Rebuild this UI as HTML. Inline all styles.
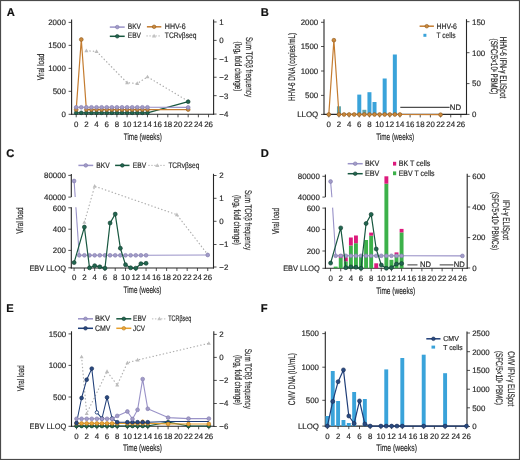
<!DOCTYPE html><html><head><meta charset="utf-8"><style>html,body{margin:0;padding:0;background:#fff;}body{width:520px;height:460px;overflow:hidden;}svg{display:block;-webkit-font-smoothing:antialiased;will-change:transform;filter:blur(0.3px);}text{text-rendering:geometricPrecision;}</style></head><body>
<svg width="520" height="460" viewBox="0 0 520 460" font-family='"Liberation Sans", sans-serif'>
<rect x="0" y="0" width="520" height="460" fill="#ffffff"/>
<text x="6.7" y="15.8" font-size="11.2" text-anchor="start" fill="#111" stroke="#111" stroke-width="0.18" font-weight="bold">A</text>
<line x1="71.6" y1="19.6" x2="71.6" y2="114.8" stroke="#262626" stroke-width="1.1" stroke-linecap="butt"/>
<line x1="68.6" y1="114.3" x2="71.6" y2="114.3" stroke="#262626" stroke-width="0.8" stroke-linecap="butt"/>
<text x="65.8" y="117.14" font-size="7.9" text-anchor="end" fill="#2a2a2a" stroke="#2a2a2a" stroke-width="0.18">0</text>
<line x1="68.6" y1="91.32" x2="71.6" y2="91.32" stroke="#262626" stroke-width="0.8" stroke-linecap="butt"/>
<text x="65.8" y="94.17" font-size="7.9" text-anchor="end" fill="#2a2a2a" stroke="#2a2a2a" stroke-width="0.18">500</text>
<line x1="68.6" y1="68.35" x2="71.6" y2="68.35" stroke="#262626" stroke-width="0.8" stroke-linecap="butt"/>
<text x="65.8" y="71.19" font-size="7.9" text-anchor="end" fill="#2a2a2a" stroke="#2a2a2a" stroke-width="0.18">1000</text>
<line x1="68.6" y1="45.37" x2="71.6" y2="45.37" stroke="#262626" stroke-width="0.8" stroke-linecap="butt"/>
<text x="65.8" y="48.22" font-size="7.9" text-anchor="end" fill="#2a2a2a" stroke="#2a2a2a" stroke-width="0.18">1500</text>
<line x1="68.6" y1="22.4" x2="71.6" y2="22.4" stroke="#262626" stroke-width="0.8" stroke-linecap="butt"/>
<text x="65.8" y="25.24" font-size="7.9" text-anchor="end" fill="#2a2a2a" stroke="#2a2a2a" stroke-width="0.18">2000</text>
<line x1="213.6" y1="19.6" x2="213.6" y2="114.8" stroke="#262626" stroke-width="1.1" stroke-linecap="butt"/>
<line x1="213.6" y1="21.98" x2="216.6" y2="21.98" stroke="#262626" stroke-width="0.8" stroke-linecap="butt"/>
<text x="219.3" y="24.82" font-size="7.9" text-anchor="start" fill="#2a2a2a" stroke="#2a2a2a" stroke-width="0.18">1</text>
<line x1="213.6" y1="40.4" x2="216.6" y2="40.4" stroke="#262626" stroke-width="0.8" stroke-linecap="butt"/>
<text x="219.3" y="43.24" font-size="7.9" text-anchor="start" fill="#2a2a2a" stroke="#2a2a2a" stroke-width="0.18">0</text>
<line x1="213.6" y1="58.82" x2="216.6" y2="58.82" stroke="#262626" stroke-width="0.8" stroke-linecap="butt"/>
<text x="219.3" y="61.66" font-size="7.9" text-anchor="start" fill="#2a2a2a" stroke="#2a2a2a" stroke-width="0.18">−1</text>
<line x1="213.6" y1="77.24" x2="216.6" y2="77.24" stroke="#262626" stroke-width="0.8" stroke-linecap="butt"/>
<text x="219.3" y="80.08" font-size="7.9" text-anchor="start" fill="#2a2a2a" stroke="#2a2a2a" stroke-width="0.18">−2</text>
<line x1="213.6" y1="95.66" x2="216.6" y2="95.66" stroke="#262626" stroke-width="0.8" stroke-linecap="butt"/>
<text x="219.3" y="98.5" font-size="7.9" text-anchor="start" fill="#2a2a2a" stroke="#2a2a2a" stroke-width="0.18">−3</text>
<line x1="213.6" y1="114.08" x2="216.6" y2="114.08" stroke="#262626" stroke-width="0.8" stroke-linecap="butt"/>
<text x="219.3" y="116.92" font-size="7.9" text-anchor="start" fill="#2a2a2a" stroke="#2a2a2a" stroke-width="0.18">−4</text>
<line x1="71.1" y1="114.3" x2="214.1" y2="114.3" stroke="#262626" stroke-width="1.1" stroke-linecap="butt"/>
<line x1="76.2" y1="114.3" x2="76.2" y2="117.3" stroke="#262626" stroke-width="0.8" stroke-linecap="butt"/>
<text x="76.2" y="127.34" font-size="7.9" text-anchor="middle" fill="#2a2a2a" stroke="#2a2a2a" stroke-width="0.18">0</text>
<line x1="86.38" y1="114.3" x2="86.38" y2="117.3" stroke="#262626" stroke-width="0.8" stroke-linecap="butt"/>
<text x="86.38" y="127.34" font-size="7.9" text-anchor="middle" fill="#2a2a2a" stroke="#2a2a2a" stroke-width="0.18">2</text>
<line x1="96.56" y1="114.3" x2="96.56" y2="117.3" stroke="#262626" stroke-width="0.8" stroke-linecap="butt"/>
<text x="96.56" y="127.34" font-size="7.9" text-anchor="middle" fill="#2a2a2a" stroke="#2a2a2a" stroke-width="0.18">4</text>
<line x1="106.74" y1="114.3" x2="106.74" y2="117.3" stroke="#262626" stroke-width="0.8" stroke-linecap="butt"/>
<text x="106.74" y="127.34" font-size="7.9" text-anchor="middle" fill="#2a2a2a" stroke="#2a2a2a" stroke-width="0.18">6</text>
<line x1="116.92" y1="114.3" x2="116.92" y2="117.3" stroke="#262626" stroke-width="0.8" stroke-linecap="butt"/>
<text x="116.92" y="127.34" font-size="7.9" text-anchor="middle" fill="#2a2a2a" stroke="#2a2a2a" stroke-width="0.18">8</text>
<line x1="127.1" y1="114.3" x2="127.1" y2="117.3" stroke="#262626" stroke-width="0.8" stroke-linecap="butt"/>
<text x="127.1" y="127.34" font-size="7.9" text-anchor="middle" fill="#2a2a2a" stroke="#2a2a2a" stroke-width="0.18">10</text>
<line x1="137.28" y1="114.3" x2="137.28" y2="117.3" stroke="#262626" stroke-width="0.8" stroke-linecap="butt"/>
<text x="137.28" y="127.34" font-size="7.9" text-anchor="middle" fill="#2a2a2a" stroke="#2a2a2a" stroke-width="0.18">12</text>
<line x1="147.46" y1="114.3" x2="147.46" y2="117.3" stroke="#262626" stroke-width="0.8" stroke-linecap="butt"/>
<text x="147.46" y="127.34" font-size="7.9" text-anchor="middle" fill="#2a2a2a" stroke="#2a2a2a" stroke-width="0.18">14</text>
<line x1="157.64" y1="114.3" x2="157.64" y2="117.3" stroke="#262626" stroke-width="0.8" stroke-linecap="butt"/>
<text x="157.64" y="127.34" font-size="7.9" text-anchor="middle" fill="#2a2a2a" stroke="#2a2a2a" stroke-width="0.18">16</text>
<line x1="167.82" y1="114.3" x2="167.82" y2="117.3" stroke="#262626" stroke-width="0.8" stroke-linecap="butt"/>
<text x="167.82" y="127.34" font-size="7.9" text-anchor="middle" fill="#2a2a2a" stroke="#2a2a2a" stroke-width="0.18">18</text>
<line x1="178" y1="114.3" x2="178" y2="117.3" stroke="#262626" stroke-width="0.8" stroke-linecap="butt"/>
<text x="178" y="127.34" font-size="7.9" text-anchor="middle" fill="#2a2a2a" stroke="#2a2a2a" stroke-width="0.18">20</text>
<line x1="188.18" y1="114.3" x2="188.18" y2="117.3" stroke="#262626" stroke-width="0.8" stroke-linecap="butt"/>
<text x="188.18" y="127.34" font-size="7.9" text-anchor="middle" fill="#2a2a2a" stroke="#2a2a2a" stroke-width="0.18">22</text>
<line x1="198.36" y1="114.3" x2="198.36" y2="117.3" stroke="#262626" stroke-width="0.8" stroke-linecap="butt"/>
<text x="198.36" y="127.34" font-size="7.9" text-anchor="middle" fill="#2a2a2a" stroke="#2a2a2a" stroke-width="0.18">24</text>
<line x1="208.54" y1="114.3" x2="208.54" y2="117.3" stroke="#262626" stroke-width="0.8" stroke-linecap="butt"/>
<text x="208.54" y="127.34" font-size="7.9" text-anchor="middle" fill="#2a2a2a" stroke="#2a2a2a" stroke-width="0.18">26</text>
<text x="142.8" y="139.76" font-size="9.6" text-anchor="middle" fill="#2a2a2a" stroke="#2a2a2a" stroke-width="0.18" textLength="38" lengthAdjust="spacingAndGlyphs">Time (weeks)</text>
<text x="0" y="0" font-size="9.6" text-anchor="middle" fill="#2a2a2a" stroke="#2a2a2a" stroke-width="0.18" textLength="26.6" lengthAdjust="spacingAndGlyphs" transform="translate(40.6 67) rotate(-90) translate(0 3.36)">Viral load</text>
<text x="0" y="0" font-size="9.6" text-anchor="middle" fill="#2a2a2a" stroke="#2a2a2a" stroke-width="0.18" textLength="60" lengthAdjust="spacingAndGlyphs" transform="translate(248.9 67) rotate(90) translate(0 3.36)">Sum TCRβ frequency</text>
<text x="0" y="0" font-size="9.6" text-anchor="middle" fill="#2a2a2a" stroke="#2a2a2a" stroke-width="0.18" textLength="50" lengthAdjust="spacingAndGlyphs" transform="translate(238.5 66.5) rotate(90) translate(0 3.36)">(log<tspan font-size="4.8" dy="1.5">2</tspan><tspan dy="-1.5"> fold change)</tspan></text>
<line x1="109.8" y1="27.1" x2="124.7" y2="27.1" stroke="#9a93c8" stroke-width="1.5" stroke-linecap="butt"/>
<circle cx="117.25" cy="27.1" r="1.8" fill="#a29cc8" stroke="#7f78ab" stroke-width="0.6"/>
<text x="127.8" y="28.8" font-size="8" text-anchor="start" fill="#2a2a2a" stroke="#2a2a2a" stroke-width="0.18" textLength="13.2" lengthAdjust="spacingAndGlyphs">BKV</text>
<line x1="146.9" y1="26.8" x2="161.3" y2="26.8" stroke="#c47c30" stroke-width="1.5" stroke-linecap="butt"/>
<circle cx="154.1" cy="26.8" r="1.8" fill="#c98a3e" stroke="#915719" stroke-width="0.6"/>
<text x="164.8" y="29.2" font-size="8" text-anchor="start" fill="#2a2a2a" stroke="#2a2a2a" stroke-width="0.18" textLength="20.8" lengthAdjust="spacingAndGlyphs">HHV-6</text>
<line x1="109.8" y1="36.3" x2="124.7" y2="36.3" stroke="#17573f" stroke-width="1.5" stroke-linecap="butt"/>
<circle cx="117.25" cy="36.3" r="1.8" fill="#226650" stroke="#0f3b2c" stroke-width="0.6"/>
<text x="127.8" y="38.2" font-size="8" text-anchor="start" fill="#2a2a2a" stroke="#2a2a2a" stroke-width="0.18" textLength="13.2" lengthAdjust="spacingAndGlyphs">EBV</text>
<line x1="146.9" y1="35.9" x2="161.3" y2="35.9" stroke="#c4c4c4" stroke-width="1.3" stroke-linecap="round" stroke-dasharray="0.4,2.6"/>
<polygon points="154.1,33.63 152,37.41 156.2,37.41" fill="#c2c2c2"/>
<text x="164.8" y="38.3" font-size="8" text-anchor="start" fill="#2a2a2a" stroke="#2a2a2a" stroke-width="0.18" textLength="31.7" lengthAdjust="spacingAndGlyphs">TCRvβseq</text>
<polyline points="86.38,50.72 96.56,51.45 127.1,82.77 137.28,83.5 147.46,76.87 188.18,101.19" fill="none" stroke="#b0b0b0" stroke-width="1.25" stroke-linejoin="round" stroke-dasharray="0.4,3.1" stroke-linecap="round"/>
<polygon points="86.38,48.56 84.38,52.16 88.38,52.16" fill="#bcbcbc"/>
<polygon points="96.56,49.29 94.56,52.89 98.56,52.89" fill="#bcbcbc"/>
<polygon points="127.1,80.61 125.1,84.21 129.1,84.21" fill="#bcbcbc"/>
<polygon points="137.28,81.34 135.28,84.94 139.28,84.94" fill="#bcbcbc"/>
<polygon points="147.46,74.71 145.46,78.31 149.46,78.31" fill="#bcbcbc"/>
<polygon points="188.18,99.03 186.18,102.63 190.18,102.63" fill="#bcbcbc"/>
<polyline points="76.2,112.8 81.29,112.8 86.38,112.8 91.47,112.8 96.56,112.8 101.65,112.8 106.74,112.8 111.83,112.8 116.92,112.8 122.01,112.8 127.1,112.8 132.19,112.8 137.28,112.8 142.37,112.8 147.46,112.8 188.18,101.7" fill="none" stroke="#17573f" stroke-width="1.2" stroke-linejoin="round"/>
<circle cx="76.2" cy="112.8" r="1.9" fill="#226650" stroke="#0f3b2c" stroke-width="0.6"/>
<circle cx="81.29" cy="112.8" r="1.9" fill="#226650" stroke="#0f3b2c" stroke-width="0.6"/>
<circle cx="86.38" cy="112.8" r="1.9" fill="#226650" stroke="#0f3b2c" stroke-width="0.6"/>
<circle cx="91.47" cy="112.8" r="1.9" fill="#226650" stroke="#0f3b2c" stroke-width="0.6"/>
<circle cx="96.56" cy="112.8" r="1.9" fill="#226650" stroke="#0f3b2c" stroke-width="0.6"/>
<circle cx="101.65" cy="112.8" r="1.9" fill="#226650" stroke="#0f3b2c" stroke-width="0.6"/>
<circle cx="106.74" cy="112.8" r="1.9" fill="#226650" stroke="#0f3b2c" stroke-width="0.6"/>
<circle cx="111.83" cy="112.8" r="1.9" fill="#226650" stroke="#0f3b2c" stroke-width="0.6"/>
<circle cx="116.92" cy="112.8" r="1.9" fill="#226650" stroke="#0f3b2c" stroke-width="0.6"/>
<circle cx="122.01" cy="112.8" r="1.9" fill="#226650" stroke="#0f3b2c" stroke-width="0.6"/>
<circle cx="127.1" cy="112.8" r="1.9" fill="#226650" stroke="#0f3b2c" stroke-width="0.6"/>
<circle cx="132.19" cy="112.8" r="1.9" fill="#226650" stroke="#0f3b2c" stroke-width="0.6"/>
<circle cx="137.28" cy="112.8" r="1.9" fill="#226650" stroke="#0f3b2c" stroke-width="0.6"/>
<circle cx="142.37" cy="112.8" r="1.9" fill="#226650" stroke="#0f3b2c" stroke-width="0.6"/>
<circle cx="147.46" cy="112.8" r="1.9" fill="#226650" stroke="#0f3b2c" stroke-width="0.6"/>
<circle cx="188.18" cy="101.7" r="1.9" fill="#226650" stroke="#0f3b2c" stroke-width="0.6"/>
<polyline points="76.2,109.6 81.29,39.5 86.38,109.6 91.47,109.6 96.56,109.6 101.65,109.6 106.74,109.6 111.83,109.6 116.92,109.6 122.01,109.6 127.1,109.6 132.19,109.6 137.28,109.6 142.37,109.6 147.46,109.6 188.18,109.6" fill="none" stroke="#c47c30" stroke-width="1.2" stroke-linejoin="round"/>
<circle cx="76.2" cy="109.6" r="1.9" fill="#c98a3e" stroke="#915719" stroke-width="0.6"/>
<circle cx="81.29" cy="39.5" r="1.9" fill="#c98a3e" stroke="#915719" stroke-width="0.6"/>
<circle cx="86.38" cy="109.6" r="1.9" fill="#c98a3e" stroke="#915719" stroke-width="0.6"/>
<circle cx="91.47" cy="109.6" r="1.9" fill="#c98a3e" stroke="#915719" stroke-width="0.6"/>
<circle cx="96.56" cy="109.6" r="1.9" fill="#c98a3e" stroke="#915719" stroke-width="0.6"/>
<circle cx="101.65" cy="109.6" r="1.9" fill="#c98a3e" stroke="#915719" stroke-width="0.6"/>
<circle cx="106.74" cy="109.6" r="1.9" fill="#c98a3e" stroke="#915719" stroke-width="0.6"/>
<circle cx="111.83" cy="109.6" r="1.9" fill="#c98a3e" stroke="#915719" stroke-width="0.6"/>
<circle cx="116.92" cy="109.6" r="1.9" fill="#c98a3e" stroke="#915719" stroke-width="0.6"/>
<circle cx="122.01" cy="109.6" r="1.9" fill="#c98a3e" stroke="#915719" stroke-width="0.6"/>
<circle cx="127.1" cy="109.6" r="1.9" fill="#c98a3e" stroke="#915719" stroke-width="0.6"/>
<circle cx="132.19" cy="109.6" r="1.9" fill="#c98a3e" stroke="#915719" stroke-width="0.6"/>
<circle cx="137.28" cy="109.6" r="1.9" fill="#c98a3e" stroke="#915719" stroke-width="0.6"/>
<circle cx="142.37" cy="109.6" r="1.9" fill="#c98a3e" stroke="#915719" stroke-width="0.6"/>
<circle cx="147.46" cy="109.6" r="1.9" fill="#c98a3e" stroke="#915719" stroke-width="0.6"/>
<circle cx="188.18" cy="109.6" r="1.9" fill="#c98a3e" stroke="#915719" stroke-width="0.6"/>
<polyline points="76.2,107.3 81.29,107.3 86.38,107.3 91.47,107.3 96.56,107.3 101.65,107.3 106.74,107.3 111.83,107.3 116.92,107.3 122.01,107.3 127.1,107.3 132.19,107.3 137.28,107.3 142.37,107.3 147.46,107.3 188.18,107.4" fill="none" stroke="#9a93c8" stroke-width="1.1" stroke-linejoin="round"/>
<circle cx="76.2" cy="107.3" r="1.9" fill="#a29cc8" stroke="#7f78ab" stroke-width="0.6"/>
<circle cx="81.29" cy="107.3" r="1.9" fill="#a29cc8" stroke="#7f78ab" stroke-width="0.6"/>
<circle cx="86.38" cy="107.3" r="1.9" fill="#a29cc8" stroke="#7f78ab" stroke-width="0.6"/>
<circle cx="91.47" cy="107.3" r="1.9" fill="#a29cc8" stroke="#7f78ab" stroke-width="0.6"/>
<circle cx="96.56" cy="107.3" r="1.9" fill="#a29cc8" stroke="#7f78ab" stroke-width="0.6"/>
<circle cx="101.65" cy="107.3" r="1.9" fill="#a29cc8" stroke="#7f78ab" stroke-width="0.6"/>
<circle cx="106.74" cy="107.3" r="1.9" fill="#a29cc8" stroke="#7f78ab" stroke-width="0.6"/>
<circle cx="111.83" cy="107.3" r="1.9" fill="#a29cc8" stroke="#7f78ab" stroke-width="0.6"/>
<circle cx="116.92" cy="107.3" r="1.9" fill="#a29cc8" stroke="#7f78ab" stroke-width="0.6"/>
<circle cx="122.01" cy="107.3" r="1.9" fill="#a29cc8" stroke="#7f78ab" stroke-width="0.6"/>
<circle cx="127.1" cy="107.3" r="1.9" fill="#a29cc8" stroke="#7f78ab" stroke-width="0.6"/>
<circle cx="132.19" cy="107.3" r="1.9" fill="#a29cc8" stroke="#7f78ab" stroke-width="0.6"/>
<circle cx="137.28" cy="107.3" r="1.9" fill="#a29cc8" stroke="#7f78ab" stroke-width="0.6"/>
<circle cx="142.37" cy="107.3" r="1.9" fill="#a29cc8" stroke="#7f78ab" stroke-width="0.6"/>
<circle cx="147.46" cy="107.3" r="1.9" fill="#a29cc8" stroke="#7f78ab" stroke-width="0.6"/>
<circle cx="188.18" cy="107.4" r="1.9" fill="#a29cc8" stroke="#7f78ab" stroke-width="0.6"/>
<text x="260.7" y="15.6" font-size="11.2" text-anchor="start" fill="#111" stroke="#111" stroke-width="0.18" font-weight="bold">B</text>
<line x1="324" y1="19.2" x2="324" y2="114.9" stroke="#262626" stroke-width="1.1" stroke-linecap="butt"/>
<line x1="321" y1="22.3" x2="324" y2="22.3" stroke="#262626" stroke-width="0.8" stroke-linecap="butt"/>
<text x="318.2" y="25.14" font-size="7.9" text-anchor="end" fill="#2a2a2a" stroke="#2a2a2a" stroke-width="0.18">2000</text>
<line x1="321" y1="46.5" x2="324" y2="46.5" stroke="#262626" stroke-width="0.8" stroke-linecap="butt"/>
<text x="318.2" y="49.34" font-size="7.9" text-anchor="end" fill="#2a2a2a" stroke="#2a2a2a" stroke-width="0.18">1500</text>
<line x1="321" y1="71" x2="324" y2="71" stroke="#262626" stroke-width="0.8" stroke-linecap="butt"/>
<text x="318.2" y="73.84" font-size="7.9" text-anchor="end" fill="#2a2a2a" stroke="#2a2a2a" stroke-width="0.18">1000</text>
<line x1="321" y1="95.4" x2="324" y2="95.4" stroke="#262626" stroke-width="0.8" stroke-linecap="butt"/>
<text x="318.2" y="98.24" font-size="7.9" text-anchor="end" fill="#2a2a2a" stroke="#2a2a2a" stroke-width="0.18">500</text>
<line x1="321" y1="114.4" x2="324" y2="114.4" stroke="#262626" stroke-width="0.8" stroke-linecap="butt"/>
<text x="318.2" y="117.24" font-size="7.9" text-anchor="end" fill="#2a2a2a" stroke="#2a2a2a" stroke-width="0.18">LLOQ</text>
<line x1="466.5" y1="19.2" x2="466.5" y2="114.9" stroke="#262626" stroke-width="1.1" stroke-linecap="butt"/>
<line x1="466.5" y1="21.7" x2="469.5" y2="21.7" stroke="#262626" stroke-width="0.8" stroke-linecap="butt"/>
<text x="472" y="24.54" font-size="7.9" text-anchor="start" fill="#2a2a2a" stroke="#2a2a2a" stroke-width="0.18">150</text>
<line x1="466.5" y1="52.7" x2="469.5" y2="52.7" stroke="#262626" stroke-width="0.8" stroke-linecap="butt"/>
<text x="472" y="55.54" font-size="7.9" text-anchor="start" fill="#2a2a2a" stroke="#2a2a2a" stroke-width="0.18">100</text>
<line x1="466.5" y1="83.6" x2="469.5" y2="83.6" stroke="#262626" stroke-width="0.8" stroke-linecap="butt"/>
<text x="472" y="86.44" font-size="7.9" text-anchor="start" fill="#2a2a2a" stroke="#2a2a2a" stroke-width="0.18">50</text>
<line x1="466.5" y1="114.4" x2="469.5" y2="114.4" stroke="#262626" stroke-width="0.8" stroke-linecap="butt"/>
<text x="472" y="117.24" font-size="7.9" text-anchor="start" fill="#2a2a2a" stroke="#2a2a2a" stroke-width="0.18">0</text>
<line x1="323.5" y1="114.4" x2="467" y2="114.4" stroke="#262626" stroke-width="1.1" stroke-linecap="butt"/>
<line x1="328.8" y1="114.4" x2="328.8" y2="117.4" stroke="#262626" stroke-width="0.8" stroke-linecap="butt"/>
<text x="328.8" y="127.24" font-size="7.9" text-anchor="middle" fill="#2a2a2a" stroke="#2a2a2a" stroke-width="0.18">0</text>
<line x1="338.96" y1="114.4" x2="338.96" y2="117.4" stroke="#262626" stroke-width="0.8" stroke-linecap="butt"/>
<text x="338.96" y="127.24" font-size="7.9" text-anchor="middle" fill="#2a2a2a" stroke="#2a2a2a" stroke-width="0.18">2</text>
<line x1="349.12" y1="114.4" x2="349.12" y2="117.4" stroke="#262626" stroke-width="0.8" stroke-linecap="butt"/>
<text x="349.12" y="127.24" font-size="7.9" text-anchor="middle" fill="#2a2a2a" stroke="#2a2a2a" stroke-width="0.18">4</text>
<line x1="359.28" y1="114.4" x2="359.28" y2="117.4" stroke="#262626" stroke-width="0.8" stroke-linecap="butt"/>
<text x="359.28" y="127.24" font-size="7.9" text-anchor="middle" fill="#2a2a2a" stroke="#2a2a2a" stroke-width="0.18">6</text>
<line x1="369.44" y1="114.4" x2="369.44" y2="117.4" stroke="#262626" stroke-width="0.8" stroke-linecap="butt"/>
<text x="369.44" y="127.24" font-size="7.9" text-anchor="middle" fill="#2a2a2a" stroke="#2a2a2a" stroke-width="0.18">8</text>
<line x1="379.6" y1="114.4" x2="379.6" y2="117.4" stroke="#262626" stroke-width="0.8" stroke-linecap="butt"/>
<text x="379.6" y="127.24" font-size="7.9" text-anchor="middle" fill="#2a2a2a" stroke="#2a2a2a" stroke-width="0.18">10</text>
<line x1="389.76" y1="114.4" x2="389.76" y2="117.4" stroke="#262626" stroke-width="0.8" stroke-linecap="butt"/>
<text x="389.76" y="127.24" font-size="7.9" text-anchor="middle" fill="#2a2a2a" stroke="#2a2a2a" stroke-width="0.18">12</text>
<line x1="399.92" y1="114.4" x2="399.92" y2="117.4" stroke="#262626" stroke-width="0.8" stroke-linecap="butt"/>
<text x="399.92" y="127.24" font-size="7.9" text-anchor="middle" fill="#2a2a2a" stroke="#2a2a2a" stroke-width="0.18">14</text>
<line x1="410.08" y1="114.4" x2="410.08" y2="117.4" stroke="#262626" stroke-width="0.8" stroke-linecap="butt"/>
<text x="410.08" y="127.24" font-size="7.9" text-anchor="middle" fill="#2a2a2a" stroke="#2a2a2a" stroke-width="0.18">16</text>
<line x1="420.24" y1="114.4" x2="420.24" y2="117.4" stroke="#262626" stroke-width="0.8" stroke-linecap="butt"/>
<text x="420.24" y="127.24" font-size="7.9" text-anchor="middle" fill="#2a2a2a" stroke="#2a2a2a" stroke-width="0.18">18</text>
<line x1="430.4" y1="114.4" x2="430.4" y2="117.4" stroke="#262626" stroke-width="0.8" stroke-linecap="butt"/>
<text x="430.4" y="127.24" font-size="7.9" text-anchor="middle" fill="#2a2a2a" stroke="#2a2a2a" stroke-width="0.18">20</text>
<line x1="440.56" y1="114.4" x2="440.56" y2="117.4" stroke="#262626" stroke-width="0.8" stroke-linecap="butt"/>
<text x="440.56" y="127.24" font-size="7.9" text-anchor="middle" fill="#2a2a2a" stroke="#2a2a2a" stroke-width="0.18">22</text>
<line x1="450.72" y1="114.4" x2="450.72" y2="117.4" stroke="#262626" stroke-width="0.8" stroke-linecap="butt"/>
<text x="450.72" y="127.24" font-size="7.9" text-anchor="middle" fill="#2a2a2a" stroke="#2a2a2a" stroke-width="0.18">24</text>
<line x1="460.88" y1="114.4" x2="460.88" y2="117.4" stroke="#262626" stroke-width="0.8" stroke-linecap="butt"/>
<text x="460.88" y="127.24" font-size="7.9" text-anchor="middle" fill="#2a2a2a" stroke="#2a2a2a" stroke-width="0.18">26</text>
<text x="395.2" y="139.86" font-size="9.6" text-anchor="middle" fill="#2a2a2a" stroke="#2a2a2a" stroke-width="0.18" textLength="38" lengthAdjust="spacingAndGlyphs">Time (weeks)</text>
<text x="0" y="0" font-size="9.6" text-anchor="middle" fill="#2a2a2a" stroke="#2a2a2a" stroke-width="0.18" textLength="68" lengthAdjust="spacingAndGlyphs" transform="translate(291.4 67) rotate(-90) translate(0 3.36)">HHV-6 DNA (copies/mL)</text>
<text x="0" y="0" font-size="9.6" text-anchor="middle" fill="#2a2a2a" stroke="#2a2a2a" stroke-width="0.18" textLength="61.7" lengthAdjust="spacingAndGlyphs" transform="translate(503.6 67.5) rotate(90) translate(0 3.36)">HHV-6 IFN-γ ELISpot</text>
<text x="0" y="0" font-size="9.6" text-anchor="middle" fill="#2a2a2a" stroke="#2a2a2a" stroke-width="0.18" textLength="56" lengthAdjust="spacingAndGlyphs" transform="translate(494.4 66.5) rotate(90) translate(0 3.36)">(SFC/5×10<tspan font-size="4.5" dy="-2">5</tspan><tspan dy="2"> PBMC)</tspan></text>
<line x1="419.6" y1="26.2" x2="433.9" y2="26.2" stroke="#c47c30" stroke-width="1.5" stroke-linecap="butt"/>
<circle cx="426.75" cy="26.2" r="1.8" fill="#c98a3e" stroke="#915719" stroke-width="0.6"/>
<text x="436.5" y="28.6" font-size="8" text-anchor="start" fill="#2a2a2a" stroke="#2a2a2a" stroke-width="0.18" textLength="20.4" lengthAdjust="spacingAndGlyphs">HHV-6</text>
<rect x="423.4" y="33.8" width="3" height="3" fill="#3aa3da"/>
<text x="436.5" y="37.7" font-size="8" text-anchor="start" fill="#2a2a2a" stroke="#2a2a2a" stroke-width="0.18" textLength="19.1" lengthAdjust="spacingAndGlyphs">T cells</text>
<rect x="336.96" y="106.3" width="4" height="8.1" fill="#62a4a8"/>
<rect x="357.28" y="94.6" width="4" height="19.8" fill="#3aa3da"/>
<rect x="362.36" y="109.8" width="4" height="4.6" fill="#62a4a8"/>
<rect x="367.44" y="92.2" width="4" height="22.2" fill="#3aa3da"/>
<rect x="372.52" y="102" width="4" height="12.4" fill="#3aa3da"/>
<rect x="382.68" y="78.5" width="4" height="35.9" fill="#3aa3da"/>
<rect x="392.84" y="54.5" width="4" height="59.9" fill="#3aa3da"/>
<line x1="400.3" y1="107.3" x2="449.6" y2="107.3" stroke="#222" stroke-width="1" stroke-linecap="butt"/>
<text x="449.8" y="109.5" font-size="7.9" text-anchor="start" fill="#2a2a2a" stroke="#2a2a2a" stroke-width="0.18" textLength="11.3" lengthAdjust="spacingAndGlyphs">ND</text>
<polyline points="328.8,114.5 333.88,40.2 338.96,114.5 344.04,114.5 349.12,114.5 354.2,114.5 359.28,114.5 364.36,114.5 369.44,114.5 374.52,114.5 379.6,114.5 384.68,114.5 389.76,114.5 394.84,114.5 399.92,114.5 440.56,114.7" fill="none" stroke="#c47c30" stroke-width="1.2" stroke-linejoin="round"/>
<circle cx="328.8" cy="114.5" r="1.9" fill="#c98a3e" stroke="#915719" stroke-width="0.6"/>
<circle cx="333.88" cy="40.2" r="1.9" fill="#c98a3e" stroke="#915719" stroke-width="0.6"/>
<circle cx="338.96" cy="114.5" r="1.9" fill="#c98a3e" stroke="#915719" stroke-width="0.6"/>
<circle cx="344.04" cy="114.5" r="1.9" fill="#c98a3e" stroke="#915719" stroke-width="0.6"/>
<circle cx="349.12" cy="114.5" r="1.9" fill="#c98a3e" stroke="#915719" stroke-width="0.6"/>
<circle cx="354.2" cy="114.5" r="1.9" fill="#c98a3e" stroke="#915719" stroke-width="0.6"/>
<circle cx="359.28" cy="114.5" r="1.9" fill="#c98a3e" stroke="#915719" stroke-width="0.6"/>
<circle cx="364.36" cy="114.5" r="1.9" fill="#c98a3e" stroke="#915719" stroke-width="0.6"/>
<circle cx="369.44" cy="114.5" r="1.9" fill="#c98a3e" stroke="#915719" stroke-width="0.6"/>
<circle cx="374.52" cy="114.5" r="1.9" fill="#c98a3e" stroke="#915719" stroke-width="0.6"/>
<circle cx="379.6" cy="114.5" r="1.9" fill="#c98a3e" stroke="#915719" stroke-width="0.6"/>
<circle cx="384.68" cy="114.5" r="1.9" fill="#c98a3e" stroke="#915719" stroke-width="0.6"/>
<circle cx="389.76" cy="114.5" r="1.9" fill="#c98a3e" stroke="#915719" stroke-width="0.6"/>
<circle cx="394.84" cy="114.5" r="1.9" fill="#c98a3e" stroke="#915719" stroke-width="0.6"/>
<circle cx="399.92" cy="114.5" r="1.9" fill="#c98a3e" stroke="#915719" stroke-width="0.6"/>
<circle cx="440.56" cy="114.7" r="1.9" fill="#c98a3e" stroke="#915719" stroke-width="0.6"/>
<text x="6.2" y="157.3" font-size="11.2" text-anchor="start" fill="#111" stroke="#111" stroke-width="0.18" font-weight="bold">C</text>
<line x1="71.3" y1="174" x2="71.3" y2="197.1" stroke="#262626" stroke-width="1.1" stroke-linecap="butt"/>
<line x1="71.3" y1="207.2" x2="71.3" y2="268.5" stroke="#262626" stroke-width="1.1" stroke-linecap="butt"/>
<line x1="68.3" y1="175.4" x2="71.3" y2="175.4" stroke="#262626" stroke-width="0.8" stroke-linecap="butt"/>
<text x="66" y="178.24" font-size="7.9" text-anchor="end" fill="#2a2a2a" stroke="#2a2a2a" stroke-width="0.18">80000</text>
<line x1="68.3" y1="197.1" x2="71.3" y2="197.1" stroke="#262626" stroke-width="0.8" stroke-linecap="butt"/>
<text x="66" y="199.94" font-size="7.9" text-anchor="end" fill="#2a2a2a" stroke="#2a2a2a" stroke-width="0.18">40000</text>
<line x1="68.3" y1="207.8" x2="71.3" y2="207.8" stroke="#262626" stroke-width="0.8" stroke-linecap="butt"/>
<text x="66" y="210.64" font-size="7.9" text-anchor="end" fill="#2a2a2a" stroke="#2a2a2a" stroke-width="0.18">600</text>
<line x1="68.3" y1="229.2" x2="71.3" y2="229.2" stroke="#262626" stroke-width="0.8" stroke-linecap="butt"/>
<text x="66" y="232.04" font-size="7.9" text-anchor="end" fill="#2a2a2a" stroke="#2a2a2a" stroke-width="0.18">400</text>
<line x1="68.3" y1="250.4" x2="71.3" y2="250.4" stroke="#262626" stroke-width="0.8" stroke-linecap="butt"/>
<text x="66" y="253.24" font-size="7.9" text-anchor="end" fill="#2a2a2a" stroke="#2a2a2a" stroke-width="0.18">200</text>
<line x1="68.3" y1="267.8" x2="71.3" y2="267.8" stroke="#262626" stroke-width="0.8" stroke-linecap="butt"/>
<text x="66" y="270.64" font-size="7.9" text-anchor="end" fill="#2a2a2a" stroke="#2a2a2a" stroke-width="0.18" textLength="36.6" lengthAdjust="spacingAndGlyphs">EBV LLOQ</text>
<line x1="213.5" y1="173.8" x2="213.5" y2="268.5" stroke="#262626" stroke-width="1.1" stroke-linecap="butt"/>
<line x1="213.5" y1="175.5" x2="216.5" y2="175.5" stroke="#262626" stroke-width="0.8" stroke-linecap="butt"/>
<text x="219.3" y="178.34" font-size="7.9" text-anchor="start" fill="#2a2a2a" stroke="#2a2a2a" stroke-width="0.18">2</text>
<line x1="213.5" y1="198.3" x2="216.5" y2="198.3" stroke="#262626" stroke-width="0.8" stroke-linecap="butt"/>
<text x="219.3" y="201.14" font-size="7.9" text-anchor="start" fill="#2a2a2a" stroke="#2a2a2a" stroke-width="0.18">1</text>
<line x1="213.5" y1="221.3" x2="216.5" y2="221.3" stroke="#262626" stroke-width="0.8" stroke-linecap="butt"/>
<text x="219.3" y="224.14" font-size="7.9" text-anchor="start" fill="#2a2a2a" stroke="#2a2a2a" stroke-width="0.18">0</text>
<line x1="213.5" y1="244.5" x2="216.5" y2="244.5" stroke="#262626" stroke-width="0.8" stroke-linecap="butt"/>
<text x="219.3" y="247.34" font-size="7.9" text-anchor="start" fill="#2a2a2a" stroke="#2a2a2a" stroke-width="0.18">−1</text>
<line x1="213.5" y1="267" x2="216.5" y2="267" stroke="#262626" stroke-width="0.8" stroke-linecap="butt"/>
<text x="219.3" y="269.84" font-size="7.9" text-anchor="start" fill="#2a2a2a" stroke="#2a2a2a" stroke-width="0.18">−2</text>
<line x1="70.8" y1="268" x2="214" y2="268" stroke="#262626" stroke-width="1.1" stroke-linecap="butt"/>
<line x1="74.1" y1="268" x2="74.1" y2="271" stroke="#262626" stroke-width="0.8" stroke-linecap="butt"/>
<text x="74.1" y="280.34" font-size="7.9" text-anchor="middle" fill="#2a2a2a" stroke="#2a2a2a" stroke-width="0.18">0</text>
<line x1="84.38" y1="268" x2="84.38" y2="271" stroke="#262626" stroke-width="0.8" stroke-linecap="butt"/>
<text x="84.38" y="280.34" font-size="7.9" text-anchor="middle" fill="#2a2a2a" stroke="#2a2a2a" stroke-width="0.18">2</text>
<line x1="94.66" y1="268" x2="94.66" y2="271" stroke="#262626" stroke-width="0.8" stroke-linecap="butt"/>
<text x="94.66" y="280.34" font-size="7.9" text-anchor="middle" fill="#2a2a2a" stroke="#2a2a2a" stroke-width="0.18">4</text>
<line x1="104.94" y1="268" x2="104.94" y2="271" stroke="#262626" stroke-width="0.8" stroke-linecap="butt"/>
<text x="104.94" y="280.34" font-size="7.9" text-anchor="middle" fill="#2a2a2a" stroke="#2a2a2a" stroke-width="0.18">6</text>
<line x1="115.22" y1="268" x2="115.22" y2="271" stroke="#262626" stroke-width="0.8" stroke-linecap="butt"/>
<text x="115.22" y="280.34" font-size="7.9" text-anchor="middle" fill="#2a2a2a" stroke="#2a2a2a" stroke-width="0.18">8</text>
<line x1="125.5" y1="268" x2="125.5" y2="271" stroke="#262626" stroke-width="0.8" stroke-linecap="butt"/>
<text x="125.5" y="280.34" font-size="7.9" text-anchor="middle" fill="#2a2a2a" stroke="#2a2a2a" stroke-width="0.18">10</text>
<line x1="135.78" y1="268" x2="135.78" y2="271" stroke="#262626" stroke-width="0.8" stroke-linecap="butt"/>
<text x="135.78" y="280.34" font-size="7.9" text-anchor="middle" fill="#2a2a2a" stroke="#2a2a2a" stroke-width="0.18">12</text>
<line x1="146.06" y1="268" x2="146.06" y2="271" stroke="#262626" stroke-width="0.8" stroke-linecap="butt"/>
<text x="146.06" y="280.34" font-size="7.9" text-anchor="middle" fill="#2a2a2a" stroke="#2a2a2a" stroke-width="0.18">14</text>
<line x1="156.34" y1="268" x2="156.34" y2="271" stroke="#262626" stroke-width="0.8" stroke-linecap="butt"/>
<text x="156.34" y="280.34" font-size="7.9" text-anchor="middle" fill="#2a2a2a" stroke="#2a2a2a" stroke-width="0.18">16</text>
<line x1="166.62" y1="268" x2="166.62" y2="271" stroke="#262626" stroke-width="0.8" stroke-linecap="butt"/>
<text x="166.62" y="280.34" font-size="7.9" text-anchor="middle" fill="#2a2a2a" stroke="#2a2a2a" stroke-width="0.18">18</text>
<line x1="176.9" y1="268" x2="176.9" y2="271" stroke="#262626" stroke-width="0.8" stroke-linecap="butt"/>
<text x="176.9" y="280.34" font-size="7.9" text-anchor="middle" fill="#2a2a2a" stroke="#2a2a2a" stroke-width="0.18">20</text>
<line x1="187.18" y1="268" x2="187.18" y2="271" stroke="#262626" stroke-width="0.8" stroke-linecap="butt"/>
<text x="187.18" y="280.34" font-size="7.9" text-anchor="middle" fill="#2a2a2a" stroke="#2a2a2a" stroke-width="0.18">22</text>
<line x1="197.46" y1="268" x2="197.46" y2="271" stroke="#262626" stroke-width="0.8" stroke-linecap="butt"/>
<text x="197.46" y="280.34" font-size="7.9" text-anchor="middle" fill="#2a2a2a" stroke="#2a2a2a" stroke-width="0.18">24</text>
<line x1="207.74" y1="268" x2="207.74" y2="271" stroke="#262626" stroke-width="0.8" stroke-linecap="butt"/>
<text x="207.74" y="280.34" font-size="7.9" text-anchor="middle" fill="#2a2a2a" stroke="#2a2a2a" stroke-width="0.18">26</text>
<text x="142.5" y="292.96" font-size="9.6" text-anchor="middle" fill="#2a2a2a" stroke="#2a2a2a" stroke-width="0.18" textLength="38" lengthAdjust="spacingAndGlyphs">Time (weeks)</text>
<text x="0" y="0" font-size="9.6" text-anchor="middle" fill="#2a2a2a" stroke="#2a2a2a" stroke-width="0.18" textLength="26.4" lengthAdjust="spacingAndGlyphs" transform="translate(20.1 220.6) rotate(-90) translate(0 3.36)">Viral load</text>
<text x="0" y="0" font-size="9.6" text-anchor="middle" fill="#2a2a2a" stroke="#2a2a2a" stroke-width="0.18" textLength="60" lengthAdjust="spacingAndGlyphs" transform="translate(248.8 220) rotate(90) translate(0 3.36)">Sum TCRβ frequency</text>
<text x="0" y="0" font-size="9.6" text-anchor="middle" fill="#2a2a2a" stroke="#2a2a2a" stroke-width="0.18" textLength="50" lengthAdjust="spacingAndGlyphs" transform="translate(237.6 220) rotate(90) translate(0 3.36)">(log<tspan font-size="4.8" dy="1.5">2</tspan><tspan dy="-1.5"> fold change)</tspan></text>
<line x1="78.4" y1="165.4" x2="93.2" y2="165.4" stroke="#9a93c8" stroke-width="1.5" stroke-linecap="butt"/>
<circle cx="85.8" cy="165.4" r="1.8" fill="#a29cc8" stroke="#7f78ab" stroke-width="0.6"/>
<text x="96.3" y="167.8" font-size="8" text-anchor="start" fill="#2a2a2a" stroke="#2a2a2a" stroke-width="0.18" textLength="13.4" lengthAdjust="spacingAndGlyphs">BKV</text>
<line x1="115.1" y1="165.4" x2="129.5" y2="165.4" stroke="#17573f" stroke-width="1.5" stroke-linecap="butt"/>
<circle cx="122.3" cy="165.4" r="1.8" fill="#226650" stroke="#0f3b2c" stroke-width="0.6"/>
<text x="132.7" y="167.8" font-size="8" text-anchor="start" fill="#2a2a2a" stroke="#2a2a2a" stroke-width="0.18" textLength="13.5" lengthAdjust="spacingAndGlyphs">EBV</text>
<line x1="148.8" y1="165.4" x2="165.7" y2="165.4" stroke="#c4c4c4" stroke-width="1.3" stroke-linecap="round" stroke-dasharray="0.4,2.6"/>
<polygon points="157.25,163.13 155.15,166.91 159.35,166.91" fill="#c2c2c2"/>
<text x="168.4" y="167.8" font-size="8" text-anchor="start" fill="#2a2a2a" stroke="#2a2a2a" stroke-width="0.18" textLength="30.9" lengthAdjust="spacingAndGlyphs">TCRvβseq</text>
<polyline points="84.38,222.4 94.66,186.2 176.9,214.7 207.74,254.5" fill="none" stroke="#b0b0b0" stroke-width="1.25" stroke-linejoin="round" stroke-dasharray="0.4,3.1" stroke-linecap="round"/>
<polygon points="84.38,220.24 82.38,223.84 86.38,223.84" fill="#bcbcbc"/>
<polygon points="94.66,184.04 92.66,187.64 96.66,187.64" fill="#bcbcbc"/>
<polygon points="176.9,212.54 174.9,216.14 178.9,216.14" fill="#bcbcbc"/>
<polygon points="207.74,252.34 205.74,255.94 209.74,255.94" fill="#bcbcbc"/>
<line x1="74.1" y1="181" x2="75.2" y2="197" stroke="#9a93c8" stroke-width="1.1" stroke-linecap="butt"/>
<line x1="75.9" y1="207.2" x2="79.24" y2="255.3" stroke="#9a93c8" stroke-width="1.1" stroke-linecap="butt"/>
<circle cx="74.1" cy="181" r="1.9" fill="#a29cc8" stroke="#7f78ab" stroke-width="0.6"/>
<polyline points="79.24,255.3 84.38,255.3 89.52,255.3 94.66,255.3 99.8,255.3 104.94,255.3 110.08,255.3 115.22,255.3 120.36,255.3 125.5,255.3 130.64,255.3 135.78,255.3 140.92,255.3 146.06,255.3 207.74,255" fill="none" stroke="#9a93c8" stroke-width="1.1" stroke-linejoin="round"/>
<circle cx="79.24" cy="255.3" r="1.9" fill="#a29cc8" stroke="#7f78ab" stroke-width="0.6"/>
<circle cx="84.38" cy="255.3" r="1.9" fill="#a29cc8" stroke="#7f78ab" stroke-width="0.6"/>
<circle cx="89.52" cy="255.3" r="1.9" fill="#a29cc8" stroke="#7f78ab" stroke-width="0.6"/>
<circle cx="94.66" cy="255.3" r="1.9" fill="#a29cc8" stroke="#7f78ab" stroke-width="0.6"/>
<circle cx="99.8" cy="255.3" r="1.9" fill="#a29cc8" stroke="#7f78ab" stroke-width="0.6"/>
<circle cx="104.94" cy="255.3" r="1.9" fill="#a29cc8" stroke="#7f78ab" stroke-width="0.6"/>
<circle cx="110.08" cy="255.3" r="1.9" fill="#a29cc8" stroke="#7f78ab" stroke-width="0.6"/>
<circle cx="115.22" cy="255.3" r="1.9" fill="#a29cc8" stroke="#7f78ab" stroke-width="0.6"/>
<circle cx="120.36" cy="255.3" r="1.9" fill="#a29cc8" stroke="#7f78ab" stroke-width="0.6"/>
<circle cx="125.5" cy="255.3" r="1.9" fill="#a29cc8" stroke="#7f78ab" stroke-width="0.6"/>
<circle cx="130.64" cy="255.3" r="1.9" fill="#a29cc8" stroke="#7f78ab" stroke-width="0.6"/>
<circle cx="135.78" cy="255.3" r="1.9" fill="#a29cc8" stroke="#7f78ab" stroke-width="0.6"/>
<circle cx="140.92" cy="255.3" r="1.9" fill="#a29cc8" stroke="#7f78ab" stroke-width="0.6"/>
<circle cx="146.06" cy="255.3" r="1.9" fill="#a29cc8" stroke="#7f78ab" stroke-width="0.6"/>
<circle cx="207.74" cy="255" r="1.9" fill="#a29cc8" stroke="#7f78ab" stroke-width="0.6"/>
<polyline points="74.1,262.6 84.38,227.1 89.52,267.8 94.66,265.7 99.8,266.8 104.94,268.2 110.08,223 115.22,214.1 120.36,248.2 125.5,264.7 130.64,267.8 135.78,268.2 140.92,263.7 146.06,263.3" fill="none" stroke="#17573f" stroke-width="1.2" stroke-linejoin="round"/>
<circle cx="74.1" cy="262.6" r="2" fill="#226650" stroke="#0f3b2c" stroke-width="0.6"/>
<circle cx="84.38" cy="227.1" r="2" fill="#226650" stroke="#0f3b2c" stroke-width="0.6"/>
<circle cx="89.52" cy="267.8" r="2" fill="#226650" stroke="#0f3b2c" stroke-width="0.6"/>
<circle cx="94.66" cy="265.7" r="2" fill="#226650" stroke="#0f3b2c" stroke-width="0.6"/>
<circle cx="99.8" cy="266.8" r="2" fill="#226650" stroke="#0f3b2c" stroke-width="0.6"/>
<circle cx="104.94" cy="268.2" r="2" fill="#226650" stroke="#0f3b2c" stroke-width="0.6"/>
<circle cx="110.08" cy="223" r="2" fill="#226650" stroke="#0f3b2c" stroke-width="0.6"/>
<circle cx="115.22" cy="214.1" r="2" fill="#226650" stroke="#0f3b2c" stroke-width="0.6"/>
<circle cx="120.36" cy="248.2" r="2" fill="#226650" stroke="#0f3b2c" stroke-width="0.6"/>
<circle cx="125.5" cy="264.7" r="2" fill="#226650" stroke="#0f3b2c" stroke-width="0.6"/>
<circle cx="130.64" cy="267.8" r="2" fill="#226650" stroke="#0f3b2c" stroke-width="0.6"/>
<circle cx="135.78" cy="268.2" r="2" fill="#226650" stroke="#0f3b2c" stroke-width="0.6"/>
<circle cx="140.92" cy="263.7" r="2" fill="#226650" stroke="#0f3b2c" stroke-width="0.6"/>
<circle cx="146.06" cy="263.3" r="2" fill="#226650" stroke="#0f3b2c" stroke-width="0.6"/>
<text x="260.8" y="157.3" font-size="11.2" text-anchor="start" fill="#111" stroke="#111" stroke-width="0.18" font-weight="bold">D</text>
<line x1="325.4" y1="174.5" x2="325.4" y2="197.1" stroke="#262626" stroke-width="1.1" stroke-linecap="butt"/>
<line x1="325.4" y1="207.6" x2="325.4" y2="268.8" stroke="#262626" stroke-width="1.1" stroke-linecap="butt"/>
<line x1="322.4" y1="176.3" x2="325.4" y2="176.3" stroke="#262626" stroke-width="0.8" stroke-linecap="butt"/>
<text x="319.8" y="179.14" font-size="7.9" text-anchor="end" fill="#2a2a2a" stroke="#2a2a2a" stroke-width="0.18">80000</text>
<line x1="322.4" y1="197.1" x2="325.4" y2="197.1" stroke="#262626" stroke-width="0.8" stroke-linecap="butt"/>
<text x="319.8" y="199.94" font-size="7.9" text-anchor="end" fill="#2a2a2a" stroke="#2a2a2a" stroke-width="0.18">40000</text>
<line x1="322.4" y1="208.1" x2="325.4" y2="208.1" stroke="#262626" stroke-width="0.8" stroke-linecap="butt"/>
<text x="319.8" y="210.94" font-size="7.9" text-anchor="end" fill="#2a2a2a" stroke="#2a2a2a" stroke-width="0.18">600</text>
<line x1="322.4" y1="229.4" x2="325.4" y2="229.4" stroke="#262626" stroke-width="0.8" stroke-linecap="butt"/>
<text x="319.8" y="232.24" font-size="7.9" text-anchor="end" fill="#2a2a2a" stroke="#2a2a2a" stroke-width="0.18">400</text>
<line x1="322.4" y1="251" x2="325.4" y2="251" stroke="#262626" stroke-width="0.8" stroke-linecap="butt"/>
<text x="319.8" y="253.84" font-size="7.9" text-anchor="end" fill="#2a2a2a" stroke="#2a2a2a" stroke-width="0.18">200</text>
<line x1="322.4" y1="268.3" x2="325.4" y2="268.3" stroke="#262626" stroke-width="0.8" stroke-linecap="butt"/>
<text x="319.8" y="271.14" font-size="7.9" text-anchor="end" fill="#2a2a2a" stroke="#2a2a2a" stroke-width="0.18" textLength="36.6" lengthAdjust="spacingAndGlyphs">EBV LLOQ</text>
<line x1="467.2" y1="173.8" x2="467.2" y2="268.8" stroke="#262626" stroke-width="1.1" stroke-linecap="butt"/>
<line x1="467.2" y1="176.3" x2="470.2" y2="176.3" stroke="#262626" stroke-width="0.8" stroke-linecap="butt"/>
<text x="472.3" y="179.14" font-size="7.9" text-anchor="start" fill="#2a2a2a" stroke="#2a2a2a" stroke-width="0.18">600</text>
<line x1="467.2" y1="207" x2="470.2" y2="207" stroke="#262626" stroke-width="0.8" stroke-linecap="butt"/>
<text x="472.3" y="209.84" font-size="7.9" text-anchor="start" fill="#2a2a2a" stroke="#2a2a2a" stroke-width="0.18">400</text>
<line x1="467.2" y1="237.6" x2="470.2" y2="237.6" stroke="#262626" stroke-width="0.8" stroke-linecap="butt"/>
<text x="472.3" y="240.44" font-size="7.9" text-anchor="start" fill="#2a2a2a" stroke="#2a2a2a" stroke-width="0.18">200</text>
<line x1="467.2" y1="268" x2="470.2" y2="268" stroke="#262626" stroke-width="0.8" stroke-linecap="butt"/>
<text x="472.3" y="270.84" font-size="7.9" text-anchor="start" fill="#2a2a2a" stroke="#2a2a2a" stroke-width="0.18">0</text>
<line x1="324.9" y1="268.3" x2="467.7" y2="268.3" stroke="#262626" stroke-width="1.1" stroke-linecap="butt"/>
<line x1="330.6" y1="268.3" x2="330.6" y2="271.3" stroke="#262626" stroke-width="0.8" stroke-linecap="butt"/>
<text x="330.6" y="280.84" font-size="7.9" text-anchor="middle" fill="#2a2a2a" stroke="#2a2a2a" stroke-width="0.18">0</text>
<line x1="340.74" y1="268.3" x2="340.74" y2="271.3" stroke="#262626" stroke-width="0.8" stroke-linecap="butt"/>
<text x="340.74" y="280.84" font-size="7.9" text-anchor="middle" fill="#2a2a2a" stroke="#2a2a2a" stroke-width="0.18">2</text>
<line x1="350.88" y1="268.3" x2="350.88" y2="271.3" stroke="#262626" stroke-width="0.8" stroke-linecap="butt"/>
<text x="350.88" y="280.84" font-size="7.9" text-anchor="middle" fill="#2a2a2a" stroke="#2a2a2a" stroke-width="0.18">4</text>
<line x1="361.02" y1="268.3" x2="361.02" y2="271.3" stroke="#262626" stroke-width="0.8" stroke-linecap="butt"/>
<text x="361.02" y="280.84" font-size="7.9" text-anchor="middle" fill="#2a2a2a" stroke="#2a2a2a" stroke-width="0.18">6</text>
<line x1="371.16" y1="268.3" x2="371.16" y2="271.3" stroke="#262626" stroke-width="0.8" stroke-linecap="butt"/>
<text x="371.16" y="280.84" font-size="7.9" text-anchor="middle" fill="#2a2a2a" stroke="#2a2a2a" stroke-width="0.18">8</text>
<line x1="381.3" y1="268.3" x2="381.3" y2="271.3" stroke="#262626" stroke-width="0.8" stroke-linecap="butt"/>
<text x="381.3" y="280.84" font-size="7.9" text-anchor="middle" fill="#2a2a2a" stroke="#2a2a2a" stroke-width="0.18">10</text>
<line x1="391.44" y1="268.3" x2="391.44" y2="271.3" stroke="#262626" stroke-width="0.8" stroke-linecap="butt"/>
<text x="391.44" y="280.84" font-size="7.9" text-anchor="middle" fill="#2a2a2a" stroke="#2a2a2a" stroke-width="0.18">12</text>
<line x1="401.58" y1="268.3" x2="401.58" y2="271.3" stroke="#262626" stroke-width="0.8" stroke-linecap="butt"/>
<text x="401.58" y="280.84" font-size="7.9" text-anchor="middle" fill="#2a2a2a" stroke="#2a2a2a" stroke-width="0.18">14</text>
<line x1="411.72" y1="268.3" x2="411.72" y2="271.3" stroke="#262626" stroke-width="0.8" stroke-linecap="butt"/>
<text x="411.72" y="280.84" font-size="7.9" text-anchor="middle" fill="#2a2a2a" stroke="#2a2a2a" stroke-width="0.18">16</text>
<line x1="421.86" y1="268.3" x2="421.86" y2="271.3" stroke="#262626" stroke-width="0.8" stroke-linecap="butt"/>
<text x="421.86" y="280.84" font-size="7.9" text-anchor="middle" fill="#2a2a2a" stroke="#2a2a2a" stroke-width="0.18">18</text>
<line x1="432" y1="268.3" x2="432" y2="271.3" stroke="#262626" stroke-width="0.8" stroke-linecap="butt"/>
<text x="432" y="280.84" font-size="7.9" text-anchor="middle" fill="#2a2a2a" stroke="#2a2a2a" stroke-width="0.18">20</text>
<line x1="442.14" y1="268.3" x2="442.14" y2="271.3" stroke="#262626" stroke-width="0.8" stroke-linecap="butt"/>
<text x="442.14" y="280.84" font-size="7.9" text-anchor="middle" fill="#2a2a2a" stroke="#2a2a2a" stroke-width="0.18">22</text>
<line x1="452.28" y1="268.3" x2="452.28" y2="271.3" stroke="#262626" stroke-width="0.8" stroke-linecap="butt"/>
<text x="452.28" y="280.84" font-size="7.9" text-anchor="middle" fill="#2a2a2a" stroke="#2a2a2a" stroke-width="0.18">24</text>
<line x1="462.42" y1="268.3" x2="462.42" y2="271.3" stroke="#262626" stroke-width="0.8" stroke-linecap="butt"/>
<text x="462.42" y="280.84" font-size="7.9" text-anchor="middle" fill="#2a2a2a" stroke="#2a2a2a" stroke-width="0.18">26</text>
<text x="395.7" y="294.36" font-size="9.6" text-anchor="middle" fill="#2a2a2a" stroke="#2a2a2a" stroke-width="0.18" textLength="39" lengthAdjust="spacingAndGlyphs">Time (weeks)</text>
<text x="0" y="0" font-size="9.6" text-anchor="middle" fill="#2a2a2a" stroke="#2a2a2a" stroke-width="0.18" textLength="26.3" lengthAdjust="spacingAndGlyphs" transform="translate(275.2 221.2) rotate(-90) translate(0 3.36)">Viral load</text>
<text x="0" y="0" font-size="9.6" text-anchor="middle" fill="#2a2a2a" stroke="#2a2a2a" stroke-width="0.18" textLength="40" lengthAdjust="spacingAndGlyphs" transform="translate(506.4 220) rotate(90) translate(0 3.36)">IFN-γ ELISpot</text>
<text x="0" y="0" font-size="9.6" text-anchor="middle" fill="#2a2a2a" stroke="#2a2a2a" stroke-width="0.18" textLength="58" lengthAdjust="spacingAndGlyphs" transform="translate(495.7 221) rotate(90) translate(0 3.36)">(SFC/5×10<tspan font-size="4.5" dy="-2">5</tspan><tspan dy="2"> PBMCs)</tspan></text>
<line x1="347.7" y1="163.7" x2="362.7" y2="163.7" stroke="#9a93c8" stroke-width="1.5" stroke-linecap="butt"/>
<circle cx="355.2" cy="163.7" r="1.8" fill="#a29cc8" stroke="#7f78ab" stroke-width="0.6"/>
<text x="365" y="166.1" font-size="8" text-anchor="start" fill="#2a2a2a" stroke="#2a2a2a" stroke-width="0.18" textLength="14.4" lengthAdjust="spacingAndGlyphs">BKV</text>
<line x1="347.7" y1="173.7" x2="362.7" y2="173.7" stroke="#17573f" stroke-width="1.5" stroke-linecap="butt"/>
<circle cx="355.2" cy="173.7" r="1.8" fill="#226650" stroke="#0f3b2c" stroke-width="0.6"/>
<text x="365" y="176.1" font-size="8" text-anchor="start" fill="#2a2a2a" stroke="#2a2a2a" stroke-width="0.18" textLength="14.4" lengthAdjust="spacingAndGlyphs">EBV</text>
<rect x="393" y="161.8" width="3.2" height="3.8" fill="#dc1a7c"/>
<text x="398.7" y="166.1" font-size="8" text-anchor="start" fill="#2a2a2a" stroke="#2a2a2a" stroke-width="0.18" textLength="31.7" lengthAdjust="spacingAndGlyphs">BK T cells</text>
<rect x="393" y="171.4" width="3.2" height="3.8" fill="#3cb14a"/>
<text x="398.7" y="176.1" font-size="8" text-anchor="start" fill="#2a2a2a" stroke="#2a2a2a" stroke-width="0.18" textLength="35.9" lengthAdjust="spacingAndGlyphs">EBV T cells</text>
<rect x="333.72" y="266.6" width="3.9" height="1.7" fill="#3cb14a"/>
<rect x="338.79" y="257.9" width="3.9" height="10.4" fill="#3cb14a"/>
<rect x="338.79" y="254.5" width="3.9" height="3.4" fill="#dc1a7c"/>
<rect x="343.86" y="261.3" width="3.9" height="7" fill="#3cb14a"/>
<rect x="343.86" y="257.3" width="3.9" height="4" fill="#dc1a7c"/>
<rect x="348.93" y="245.5" width="3.9" height="22.8" fill="#3cb14a"/>
<rect x="348.93" y="237.5" width="3.9" height="8" fill="#dc1a7c"/>
<rect x="354" y="243.2" width="3.9" height="25.1" fill="#3cb14a"/>
<rect x="354" y="235.5" width="3.9" height="7.7" fill="#dc1a7c"/>
<rect x="359.07" y="257" width="3.9" height="11.3" fill="#3cb14a"/>
<rect x="364.14" y="240" width="3.9" height="28.3" fill="#3cb14a"/>
<rect x="369.21" y="235.7" width="3.9" height="32.6" fill="#3cb14a"/>
<rect x="369.21" y="232.6" width="3.9" height="3.1" fill="#dc1a7c"/>
<rect x="374.28" y="263.3" width="3.9" height="5" fill="#dc1a7c"/>
<rect x="384.42" y="183.7" width="3.9" height="84.6" fill="#3cb14a"/>
<rect x="384.42" y="176.3" width="3.9" height="7.4" fill="#dc1a7c"/>
<rect x="389.49" y="259.8" width="3.9" height="8.5" fill="#3cb14a"/>
<rect x="394.56" y="254.7" width="3.9" height="13.6" fill="#3cb14a"/>
<rect x="394.56" y="252.4" width="3.9" height="2.3" fill="#dc1a7c"/>
<rect x="399.63" y="232.4" width="3.9" height="35.9" fill="#3cb14a"/>
<rect x="399.63" y="228.9" width="3.9" height="3.5" fill="#dc1a7c"/>
<line x1="407.4" y1="264.9" x2="417.5" y2="264.9" stroke="#222" stroke-width="0.9" stroke-linecap="butt"/>
<text x="420" y="267.2" font-size="7.9" text-anchor="start" fill="#2a2a2a" stroke="#2a2a2a" stroke-width="0.18" textLength="11" lengthAdjust="spacingAndGlyphs">ND</text>
<line x1="439.7" y1="264.9" x2="453.4" y2="264.9" stroke="#222" stroke-width="0.9" stroke-linecap="butt"/>
<text x="453.7" y="267.2" font-size="7.9" text-anchor="start" fill="#2a2a2a" stroke="#2a2a2a" stroke-width="0.18" textLength="11" lengthAdjust="spacingAndGlyphs">ND</text>
<line x1="330.6" y1="181.5" x2="331.9" y2="197.2" stroke="#9a93c8" stroke-width="1.1" stroke-linecap="butt"/>
<line x1="332.6" y1="207.6" x2="335.67" y2="255.8" stroke="#9a93c8" stroke-width="1.1" stroke-linecap="butt"/>
<circle cx="330.6" cy="181.5" r="1.9" fill="#a29cc8" stroke="#7f78ab" stroke-width="0.6"/>
<polyline points="335.67,255.8 340.74,255.8 345.81,255.8 350.88,255.8 355.95,255.8 361.02,255.8 366.09,255.8 371.16,255.8 376.23,255.8 381.3,255.8 386.37,255.8 391.44,255.8 396.51,255.8 401.58,255.8 462.42,255.9" fill="none" stroke="#9a93c8" stroke-width="1.1" stroke-linejoin="round"/>
<circle cx="335.67" cy="255.8" r="1.9" fill="#a29cc8" stroke="#7f78ab" stroke-width="0.6"/>
<circle cx="340.74" cy="255.8" r="1.9" fill="#a29cc8" stroke="#7f78ab" stroke-width="0.6"/>
<circle cx="345.81" cy="255.8" r="1.9" fill="#a29cc8" stroke="#7f78ab" stroke-width="0.6"/>
<circle cx="350.88" cy="255.8" r="1.9" fill="#a29cc8" stroke="#7f78ab" stroke-width="0.6"/>
<circle cx="355.95" cy="255.8" r="1.9" fill="#a29cc8" stroke="#7f78ab" stroke-width="0.6"/>
<circle cx="361.02" cy="255.8" r="1.9" fill="#a29cc8" stroke="#7f78ab" stroke-width="0.6"/>
<circle cx="366.09" cy="255.8" r="1.9" fill="#a29cc8" stroke="#7f78ab" stroke-width="0.6"/>
<circle cx="371.16" cy="255.8" r="1.9" fill="#a29cc8" stroke="#7f78ab" stroke-width="0.6"/>
<circle cx="376.23" cy="255.8" r="1.9" fill="#a29cc8" stroke="#7f78ab" stroke-width="0.6"/>
<circle cx="381.3" cy="255.8" r="1.9" fill="#a29cc8" stroke="#7f78ab" stroke-width="0.6"/>
<circle cx="386.37" cy="255.8" r="1.9" fill="#a29cc8" stroke="#7f78ab" stroke-width="0.6"/>
<circle cx="391.44" cy="255.8" r="1.9" fill="#a29cc8" stroke="#7f78ab" stroke-width="0.6"/>
<circle cx="396.51" cy="255.8" r="1.9" fill="#a29cc8" stroke="#7f78ab" stroke-width="0.6"/>
<circle cx="401.58" cy="255.8" r="1.9" fill="#a29cc8" stroke="#7f78ab" stroke-width="0.6"/>
<circle cx="462.42" cy="255.9" r="1.9" fill="#a29cc8" stroke="#7f78ab" stroke-width="0.6"/>
<polyline points="330.6,263.1 340.74,227.9 345.81,267.7 350.88,266.9 355.95,267.3 361.02,268.3 366.09,223.5 371.16,214.4 376.23,249 381.3,265 386.37,268.3 391.44,267.7 396.51,264 401.58,263.5" fill="none" stroke="#17573f" stroke-width="1.2" stroke-linejoin="round"/>
<circle cx="330.6" cy="263.1" r="2" fill="#226650" stroke="#0f3b2c" stroke-width="0.6"/>
<circle cx="340.74" cy="227.9" r="2" fill="#226650" stroke="#0f3b2c" stroke-width="0.6"/>
<circle cx="345.81" cy="267.7" r="2" fill="#226650" stroke="#0f3b2c" stroke-width="0.6"/>
<circle cx="350.88" cy="266.9" r="2" fill="#226650" stroke="#0f3b2c" stroke-width="0.6"/>
<circle cx="355.95" cy="267.3" r="2" fill="#226650" stroke="#0f3b2c" stroke-width="0.6"/>
<circle cx="361.02" cy="268.3" r="2" fill="#226650" stroke="#0f3b2c" stroke-width="0.6"/>
<circle cx="366.09" cy="223.5" r="2" fill="#226650" stroke="#0f3b2c" stroke-width="0.6"/>
<circle cx="371.16" cy="214.4" r="2" fill="#226650" stroke="#0f3b2c" stroke-width="0.6"/>
<circle cx="376.23" cy="249" r="2" fill="#226650" stroke="#0f3b2c" stroke-width="0.6"/>
<circle cx="381.3" cy="265" r="2" fill="#226650" stroke="#0f3b2c" stroke-width="0.6"/>
<circle cx="386.37" cy="268.3" r="2" fill="#226650" stroke="#0f3b2c" stroke-width="0.6"/>
<circle cx="391.44" cy="267.7" r="2" fill="#226650" stroke="#0f3b2c" stroke-width="0.6"/>
<circle cx="396.51" cy="264" r="2" fill="#226650" stroke="#0f3b2c" stroke-width="0.6"/>
<circle cx="401.58" cy="263.5" r="2" fill="#226650" stroke="#0f3b2c" stroke-width="0.6"/>
<text x="6.2" y="312.2" font-size="11.2" text-anchor="start" fill="#111" stroke="#111" stroke-width="0.18" font-weight="bold">E</text>
<line x1="71.5" y1="331.3" x2="71.5" y2="426.8" stroke="#262626" stroke-width="1.1" stroke-linecap="butt"/>
<line x1="68.5" y1="333.9" x2="71.5" y2="333.9" stroke="#262626" stroke-width="0.8" stroke-linecap="butt"/>
<text x="66.2" y="336.74" font-size="7.9" text-anchor="end" fill="#2a2a2a" stroke="#2a2a2a" stroke-width="0.18">1500</text>
<line x1="68.5" y1="365.4" x2="71.5" y2="365.4" stroke="#262626" stroke-width="0.8" stroke-linecap="butt"/>
<text x="66.2" y="368.24" font-size="7.9" text-anchor="end" fill="#2a2a2a" stroke="#2a2a2a" stroke-width="0.18">1000</text>
<line x1="68.5" y1="397" x2="71.5" y2="397" stroke="#262626" stroke-width="0.8" stroke-linecap="butt"/>
<text x="66.2" y="399.84" font-size="7.9" text-anchor="end" fill="#2a2a2a" stroke="#2a2a2a" stroke-width="0.18">500</text>
<line x1="68.5" y1="426.3" x2="71.5" y2="426.3" stroke="#262626" stroke-width="0.8" stroke-linecap="butt"/>
<text x="66.2" y="429.14" font-size="7.9" text-anchor="end" fill="#2a2a2a" stroke="#2a2a2a" stroke-width="0.18" textLength="36.6" lengthAdjust="spacingAndGlyphs">EBV LLOQ</text>
<line x1="213.8" y1="331.3" x2="213.8" y2="426.8" stroke="#262626" stroke-width="1.1" stroke-linecap="butt"/>
<line x1="213.8" y1="334.4" x2="216.8" y2="334.4" stroke="#262626" stroke-width="0.8" stroke-linecap="butt"/>
<text x="219.3" y="337.24" font-size="7.9" text-anchor="start" fill="#2a2a2a" stroke="#2a2a2a" stroke-width="0.18">2</text>
<line x1="213.8" y1="357.4" x2="216.8" y2="357.4" stroke="#262626" stroke-width="0.8" stroke-linecap="butt"/>
<text x="219.3" y="360.24" font-size="7.9" text-anchor="start" fill="#2a2a2a" stroke="#2a2a2a" stroke-width="0.18">0</text>
<line x1="213.8" y1="380.4" x2="216.8" y2="380.4" stroke="#262626" stroke-width="0.8" stroke-linecap="butt"/>
<text x="219.3" y="383.24" font-size="7.9" text-anchor="start" fill="#2a2a2a" stroke="#2a2a2a" stroke-width="0.18">−2</text>
<line x1="213.8" y1="403.5" x2="216.8" y2="403.5" stroke="#262626" stroke-width="0.8" stroke-linecap="butt"/>
<text x="219.3" y="406.34" font-size="7.9" text-anchor="start" fill="#2a2a2a" stroke="#2a2a2a" stroke-width="0.18">−4</text>
<line x1="213.8" y1="426.5" x2="216.8" y2="426.5" stroke="#262626" stroke-width="0.8" stroke-linecap="butt"/>
<text x="219.3" y="429.34" font-size="7.9" text-anchor="start" fill="#2a2a2a" stroke="#2a2a2a" stroke-width="0.18">−6</text>
<line x1="71" y1="426.3" x2="214.3" y2="426.3" stroke="#262626" stroke-width="1.1" stroke-linecap="butt"/>
<line x1="76.5" y1="426.3" x2="76.5" y2="429.3" stroke="#262626" stroke-width="0.8" stroke-linecap="butt"/>
<text x="76.5" y="438.94" font-size="7.9" text-anchor="middle" fill="#2a2a2a" stroke="#2a2a2a" stroke-width="0.18">0</text>
<line x1="86.68" y1="426.3" x2="86.68" y2="429.3" stroke="#262626" stroke-width="0.8" stroke-linecap="butt"/>
<text x="86.68" y="438.94" font-size="7.9" text-anchor="middle" fill="#2a2a2a" stroke="#2a2a2a" stroke-width="0.18">2</text>
<line x1="96.86" y1="426.3" x2="96.86" y2="429.3" stroke="#262626" stroke-width="0.8" stroke-linecap="butt"/>
<text x="96.86" y="438.94" font-size="7.9" text-anchor="middle" fill="#2a2a2a" stroke="#2a2a2a" stroke-width="0.18">4</text>
<line x1="107.04" y1="426.3" x2="107.04" y2="429.3" stroke="#262626" stroke-width="0.8" stroke-linecap="butt"/>
<text x="107.04" y="438.94" font-size="7.9" text-anchor="middle" fill="#2a2a2a" stroke="#2a2a2a" stroke-width="0.18">6</text>
<line x1="117.22" y1="426.3" x2="117.22" y2="429.3" stroke="#262626" stroke-width="0.8" stroke-linecap="butt"/>
<text x="117.22" y="438.94" font-size="7.9" text-anchor="middle" fill="#2a2a2a" stroke="#2a2a2a" stroke-width="0.18">8</text>
<line x1="127.4" y1="426.3" x2="127.4" y2="429.3" stroke="#262626" stroke-width="0.8" stroke-linecap="butt"/>
<text x="127.4" y="438.94" font-size="7.9" text-anchor="middle" fill="#2a2a2a" stroke="#2a2a2a" stroke-width="0.18">10</text>
<line x1="137.58" y1="426.3" x2="137.58" y2="429.3" stroke="#262626" stroke-width="0.8" stroke-linecap="butt"/>
<text x="137.58" y="438.94" font-size="7.9" text-anchor="middle" fill="#2a2a2a" stroke="#2a2a2a" stroke-width="0.18">12</text>
<line x1="147.76" y1="426.3" x2="147.76" y2="429.3" stroke="#262626" stroke-width="0.8" stroke-linecap="butt"/>
<text x="147.76" y="438.94" font-size="7.9" text-anchor="middle" fill="#2a2a2a" stroke="#2a2a2a" stroke-width="0.18">14</text>
<line x1="157.94" y1="426.3" x2="157.94" y2="429.3" stroke="#262626" stroke-width="0.8" stroke-linecap="butt"/>
<text x="157.94" y="438.94" font-size="7.9" text-anchor="middle" fill="#2a2a2a" stroke="#2a2a2a" stroke-width="0.18">16</text>
<line x1="168.12" y1="426.3" x2="168.12" y2="429.3" stroke="#262626" stroke-width="0.8" stroke-linecap="butt"/>
<text x="168.12" y="438.94" font-size="7.9" text-anchor="middle" fill="#2a2a2a" stroke="#2a2a2a" stroke-width="0.18">18</text>
<line x1="178.3" y1="426.3" x2="178.3" y2="429.3" stroke="#262626" stroke-width="0.8" stroke-linecap="butt"/>
<text x="178.3" y="438.94" font-size="7.9" text-anchor="middle" fill="#2a2a2a" stroke="#2a2a2a" stroke-width="0.18">20</text>
<line x1="188.48" y1="426.3" x2="188.48" y2="429.3" stroke="#262626" stroke-width="0.8" stroke-linecap="butt"/>
<text x="188.48" y="438.94" font-size="7.9" text-anchor="middle" fill="#2a2a2a" stroke="#2a2a2a" stroke-width="0.18">22</text>
<line x1="198.66" y1="426.3" x2="198.66" y2="429.3" stroke="#262626" stroke-width="0.8" stroke-linecap="butt"/>
<text x="198.66" y="438.94" font-size="7.9" text-anchor="middle" fill="#2a2a2a" stroke="#2a2a2a" stroke-width="0.18">24</text>
<line x1="208.84" y1="426.3" x2="208.84" y2="429.3" stroke="#262626" stroke-width="0.8" stroke-linecap="butt"/>
<text x="208.84" y="438.94" font-size="7.9" text-anchor="middle" fill="#2a2a2a" stroke="#2a2a2a" stroke-width="0.18">26</text>
<text x="142.5" y="451.36" font-size="9.6" text-anchor="middle" fill="#2a2a2a" stroke="#2a2a2a" stroke-width="0.18" textLength="39" lengthAdjust="spacingAndGlyphs">Time (weeks)</text>
<text x="0" y="0" font-size="9.6" text-anchor="middle" fill="#2a2a2a" stroke="#2a2a2a" stroke-width="0.18" textLength="26" lengthAdjust="spacingAndGlyphs" transform="translate(21 378.2) rotate(-90) translate(0 3.36)">Viral load</text>
<text x="0" y="0" font-size="9.6" text-anchor="middle" fill="#2a2a2a" stroke="#2a2a2a" stroke-width="0.18" textLength="60" lengthAdjust="spacingAndGlyphs" transform="translate(248.5 378.8) rotate(90) translate(0 3.36)">Sum TCRβ frequency</text>
<text x="0" y="0" font-size="9.6" text-anchor="middle" fill="#2a2a2a" stroke="#2a2a2a" stroke-width="0.18" textLength="50" lengthAdjust="spacingAndGlyphs" transform="translate(238.1 380) rotate(90) translate(0 3.36)">(log<tspan font-size="4.8" dy="1.5">2</tspan><tspan dy="-1.5"> fold change)</tspan></text>
<line x1="78" y1="318.8" x2="93" y2="318.8" stroke="#9a93c8" stroke-width="1.5" stroke-linecap="butt"/>
<circle cx="85.5" cy="318.8" r="1.8" fill="#a29cc8" stroke="#7f78ab" stroke-width="0.6"/>
<text x="95" y="321.2" font-size="8" text-anchor="start" fill="#2a2a2a" stroke="#2a2a2a" stroke-width="0.18" textLength="15" lengthAdjust="spacingAndGlyphs">BKV</text>
<line x1="116.3" y1="318.8" x2="131.3" y2="318.8" stroke="#17573f" stroke-width="1.5" stroke-linecap="butt"/>
<circle cx="123.8" cy="318.8" r="1.8" fill="#226650" stroke="#0f3b2c" stroke-width="0.6"/>
<text x="133" y="321.2" font-size="8" text-anchor="start" fill="#2a2a2a" stroke="#2a2a2a" stroke-width="0.18" textLength="13.3" lengthAdjust="spacingAndGlyphs">EBV</text>
<line x1="152.5" y1="318.8" x2="166.3" y2="318.8" stroke="#c4c4c4" stroke-width="1.3" stroke-linecap="round" stroke-dasharray="0.4,2.6"/>
<polygon points="159.4,316.53 157.3,320.31 161.5,320.31" fill="#c2c2c2"/>
<text x="168.3" y="321.2" font-size="8" text-anchor="start" fill="#2a2a2a" stroke="#2a2a2a" stroke-width="0.18" textLength="23" lengthAdjust="spacingAndGlyphs">TCRβseq</text>
<line x1="78" y1="328.3" x2="93" y2="328.3" stroke="#1f3e78" stroke-width="1.5" stroke-linecap="butt"/>
<circle cx="85.5" cy="328.3" r="1.8" fill="#2a4a80" stroke="#152b56" stroke-width="0.6"/>
<text x="95" y="330.7" font-size="8" text-anchor="start" fill="#2a2a2a" stroke="#2a2a2a" stroke-width="0.18" textLength="15.5" lengthAdjust="spacingAndGlyphs">CMV</text>
<line x1="116.3" y1="328.3" x2="131.3" y2="328.3" stroke="#e79f2c" stroke-width="1.5" stroke-linecap="butt"/>
<circle cx="123.8" cy="328.3" r="1.8" fill="#eaa53a" stroke="#b87a1a" stroke-width="0.6"/>
<text x="133" y="330.7" font-size="8" text-anchor="start" fill="#2a2a2a" stroke="#2a2a2a" stroke-width="0.18" textLength="12" lengthAdjust="spacingAndGlyphs">JCV</text>
<polyline points="81.59,356.8 86.68,413.6 107.04,371.5 117.22,385 127.4,362.8 137.58,360 208.84,343.3" fill="none" stroke="#b0b0b0" stroke-width="1.25" stroke-linejoin="round" stroke-dasharray="0.4,3.1" stroke-linecap="round"/>
<polygon points="81.59,354.64 79.59,358.24 83.59,358.24" fill="#bcbcbc"/>
<polygon points="86.68,411.44 84.68,415.04 88.68,415.04" fill="#bcbcbc"/>
<polygon points="107.04,369.34 105.04,372.94 109.04,372.94" fill="#bcbcbc"/>
<polygon points="117.22,382.84 115.22,386.44 119.22,386.44" fill="#bcbcbc"/>
<polygon points="127.4,360.64 125.4,364.24 129.4,364.24" fill="#bcbcbc"/>
<polygon points="137.58,357.84 135.58,361.44 139.58,361.44" fill="#bcbcbc"/>
<polygon points="208.84,341.14 206.84,344.74 210.84,344.74" fill="#bcbcbc"/>
<polyline points="76.5,426 81.59,426 86.68,426 91.77,426 96.86,426 101.95,426 107.04,426 112.13,426 117.22,426 127.4,426 132.49,426 137.58,426 142.67,426 147.76,426 168.12,422.2 188.48,426 208.84,426" fill="none" stroke="#17573f" stroke-width="1.2" stroke-linejoin="round"/>
<circle cx="76.5" cy="426" r="1.9" fill="#226650" stroke="#0f3b2c" stroke-width="0.6"/>
<circle cx="81.59" cy="426" r="1.9" fill="#226650" stroke="#0f3b2c" stroke-width="0.6"/>
<circle cx="86.68" cy="426" r="1.9" fill="#226650" stroke="#0f3b2c" stroke-width="0.6"/>
<circle cx="91.77" cy="426" r="1.9" fill="#226650" stroke="#0f3b2c" stroke-width="0.6"/>
<circle cx="96.86" cy="426" r="1.9" fill="#226650" stroke="#0f3b2c" stroke-width="0.6"/>
<circle cx="101.95" cy="426" r="1.9" fill="#226650" stroke="#0f3b2c" stroke-width="0.6"/>
<circle cx="107.04" cy="426" r="1.9" fill="#226650" stroke="#0f3b2c" stroke-width="0.6"/>
<circle cx="112.13" cy="426" r="1.9" fill="#226650" stroke="#0f3b2c" stroke-width="0.6"/>
<circle cx="117.22" cy="426" r="1.9" fill="#226650" stroke="#0f3b2c" stroke-width="0.6"/>
<circle cx="127.4" cy="426" r="1.9" fill="#226650" stroke="#0f3b2c" stroke-width="0.6"/>
<circle cx="132.49" cy="426" r="1.9" fill="#226650" stroke="#0f3b2c" stroke-width="0.6"/>
<circle cx="137.58" cy="426" r="1.9" fill="#226650" stroke="#0f3b2c" stroke-width="0.6"/>
<circle cx="142.67" cy="426" r="1.9" fill="#226650" stroke="#0f3b2c" stroke-width="0.6"/>
<circle cx="147.76" cy="426" r="1.9" fill="#226650" stroke="#0f3b2c" stroke-width="0.6"/>
<circle cx="168.12" cy="422.2" r="1.9" fill="#226650" stroke="#0f3b2c" stroke-width="0.6"/>
<circle cx="188.48" cy="426" r="1.9" fill="#226650" stroke="#0f3b2c" stroke-width="0.6"/>
<circle cx="208.84" cy="426" r="1.9" fill="#226650" stroke="#0f3b2c" stroke-width="0.6"/>
<polyline points="76.5,423.4 81.59,423.4 86.68,423.4 91.77,423.4 96.86,423.4 101.95,423.4 107.04,423.4 112.13,423.4 117.22,423.4 127.4,423.4 132.49,423.4 137.58,423.4 142.67,423.4 147.76,423.4 168.12,423.9 188.48,424 208.84,424" fill="none" stroke="#e79f2c" stroke-width="1.2" stroke-linejoin="round"/>
<circle cx="76.5" cy="423.4" r="1.9" fill="#eaa53a" stroke="#b87a1a" stroke-width="0.6"/>
<circle cx="81.59" cy="423.4" r="1.9" fill="#eaa53a" stroke="#b87a1a" stroke-width="0.6"/>
<circle cx="86.68" cy="423.4" r="1.9" fill="#eaa53a" stroke="#b87a1a" stroke-width="0.6"/>
<circle cx="91.77" cy="423.4" r="1.9" fill="#eaa53a" stroke="#b87a1a" stroke-width="0.6"/>
<circle cx="96.86" cy="423.4" r="1.9" fill="#eaa53a" stroke="#b87a1a" stroke-width="0.6"/>
<circle cx="101.95" cy="423.4" r="1.9" fill="#eaa53a" stroke="#b87a1a" stroke-width="0.6"/>
<circle cx="107.04" cy="423.4" r="1.9" fill="#eaa53a" stroke="#b87a1a" stroke-width="0.6"/>
<circle cx="112.13" cy="423.4" r="1.9" fill="#eaa53a" stroke="#b87a1a" stroke-width="0.6"/>
<circle cx="117.22" cy="423.4" r="1.9" fill="#eaa53a" stroke="#b87a1a" stroke-width="0.6"/>
<circle cx="127.4" cy="423.4" r="1.9" fill="#eaa53a" stroke="#b87a1a" stroke-width="0.6"/>
<circle cx="132.49" cy="423.4" r="1.9" fill="#eaa53a" stroke="#b87a1a" stroke-width="0.6"/>
<circle cx="137.58" cy="423.4" r="1.9" fill="#eaa53a" stroke="#b87a1a" stroke-width="0.6"/>
<circle cx="142.67" cy="423.4" r="1.9" fill="#eaa53a" stroke="#b87a1a" stroke-width="0.6"/>
<circle cx="147.76" cy="423.4" r="1.9" fill="#eaa53a" stroke="#b87a1a" stroke-width="0.6"/>
<circle cx="168.12" cy="423.9" r="1.9" fill="#eaa53a" stroke="#b87a1a" stroke-width="0.6"/>
<circle cx="188.48" cy="424" r="1.9" fill="#eaa53a" stroke="#b87a1a" stroke-width="0.6"/>
<circle cx="208.84" cy="424" r="1.9" fill="#eaa53a" stroke="#b87a1a" stroke-width="0.6"/>
<circle cx="142.67" cy="421.5" r="1.9" fill="#f0a020"/>
<polyline points="76.5,423 81.59,398 86.68,379.7 91.77,368.6 96.86,412.4 101.95,418.5 107.04,397.4 112.13,418.5 117.22,422.2 127.4,422.2 132.49,422.2 137.58,422.2 142.67,422.2 147.76,422.2 168.12,421.5 188.48,421.5 208.84,421.5" fill="none" stroke="#1f3e78" stroke-width="1.05" stroke-linejoin="round"/>
<circle cx="76.5" cy="423" r="1.9" fill="#2a4a80" stroke="#152b56" stroke-width="0.6"/>
<circle cx="81.59" cy="398" r="1.9" fill="#2a4a80" stroke="#152b56" stroke-width="0.6"/>
<circle cx="86.68" cy="379.7" r="1.9" fill="#2a4a80" stroke="#152b56" stroke-width="0.6"/>
<circle cx="91.77" cy="368.6" r="1.9" fill="#2a4a80" stroke="#152b56" stroke-width="0.6"/>
<circle cx="96.86" cy="412.4" r="1.7" fill="#ffffff" stroke="#1f3e78" stroke-width="0.9"/>
<circle cx="101.95" cy="418.5" r="1.9" fill="#2a4a80" stroke="#152b56" stroke-width="0.6"/>
<circle cx="107.04" cy="397.4" r="1.9" fill="#2a4a80" stroke="#152b56" stroke-width="0.6"/>
<circle cx="112.13" cy="418.5" r="1.9" fill="#2a4a80" stroke="#152b56" stroke-width="0.6"/>
<circle cx="117.22" cy="422.2" r="1.9" fill="#2a4a80" stroke="#152b56" stroke-width="0.6"/>
<circle cx="127.4" cy="422.2" r="1.9" fill="#2a4a80" stroke="#152b56" stroke-width="0.6"/>
<circle cx="132.49" cy="422.2" r="1.9" fill="#2a4a80" stroke="#152b56" stroke-width="0.6"/>
<circle cx="137.58" cy="422.2" r="1.9" fill="#2a4a80" stroke="#152b56" stroke-width="0.6"/>
<circle cx="142.67" cy="422.2" r="1.9" fill="#2a4a80" stroke="#152b56" stroke-width="0.6"/>
<circle cx="147.76" cy="422.2" r="1.9" fill="#2a4a80" stroke="#152b56" stroke-width="0.6"/>
<polyline points="76.5,418.8 81.59,418.8 86.68,418.8 91.77,418.8 96.86,418.8 101.95,418.8 107.04,418.8 112.13,418.8 117.22,415.9 127.4,411.5 132.49,419 137.58,409.8 142.67,379.1 147.76,408.8 168.12,417.6 188.48,418.6 208.84,418.6" fill="none" stroke="#9a93c8" stroke-width="1.1" stroke-linejoin="round"/>
<circle cx="76.5" cy="418.8" r="1.9" fill="#a29cc8" stroke="#7f78ab" stroke-width="0.6"/>
<circle cx="81.59" cy="418.8" r="1.9" fill="#a29cc8" stroke="#7f78ab" stroke-width="0.6"/>
<circle cx="86.68" cy="418.8" r="1.9" fill="#a29cc8" stroke="#7f78ab" stroke-width="0.6"/>
<circle cx="91.77" cy="418.8" r="1.9" fill="#a29cc8" stroke="#7f78ab" stroke-width="0.6"/>
<circle cx="96.86" cy="418.8" r="1.9" fill="#a29cc8" stroke="#7f78ab" stroke-width="0.6"/>
<circle cx="101.95" cy="418.8" r="1.9" fill="#a29cc8" stroke="#7f78ab" stroke-width="0.6"/>
<circle cx="107.04" cy="418.8" r="1.9" fill="#a29cc8" stroke="#7f78ab" stroke-width="0.6"/>
<circle cx="112.13" cy="418.8" r="1.9" fill="#a29cc8" stroke="#7f78ab" stroke-width="0.6"/>
<circle cx="117.22" cy="415.9" r="1.9" fill="#a29cc8" stroke="#7f78ab" stroke-width="0.6"/>
<circle cx="127.4" cy="411.5" r="1.9" fill="#a29cc8" stroke="#7f78ab" stroke-width="0.6"/>
<circle cx="132.49" cy="419" r="1.9" fill="#a29cc8" stroke="#7f78ab" stroke-width="0.6"/>
<circle cx="137.58" cy="409.8" r="1.9" fill="#a29cc8" stroke="#7f78ab" stroke-width="0.6"/>
<circle cx="142.67" cy="379.1" r="1.9" fill="#a29cc8" stroke="#7f78ab" stroke-width="0.6"/>
<circle cx="147.76" cy="408.8" r="1.9" fill="#a29cc8" stroke="#7f78ab" stroke-width="0.6"/>
<circle cx="168.12" cy="417.6" r="1.9" fill="#a29cc8" stroke="#7f78ab" stroke-width="0.6"/>
<circle cx="188.48" cy="418.6" r="1.9" fill="#a29cc8" stroke="#7f78ab" stroke-width="0.6"/>
<circle cx="208.84" cy="418.6" r="1.9" fill="#a29cc8" stroke="#7f78ab" stroke-width="0.6"/>
<text x="260.8" y="312.2" font-size="11.2" text-anchor="start" fill="#111" stroke="#111" stroke-width="0.18" font-weight="bold">F</text>
<line x1="325.3" y1="331.5" x2="325.3" y2="426.6" stroke="#262626" stroke-width="1.1" stroke-linecap="butt"/>
<line x1="322.3" y1="333.6" x2="325.3" y2="333.6" stroke="#262626" stroke-width="0.8" stroke-linecap="butt"/>
<text x="319" y="336.44" font-size="7.9" text-anchor="end" fill="#2a2a2a" stroke="#2a2a2a" stroke-width="0.18">1500</text>
<line x1="322.3" y1="367.2" x2="325.3" y2="367.2" stroke="#262626" stroke-width="0.8" stroke-linecap="butt"/>
<text x="319" y="370.04" font-size="7.9" text-anchor="end" fill="#2a2a2a" stroke="#2a2a2a" stroke-width="0.18">1000</text>
<line x1="322.3" y1="400.3" x2="325.3" y2="400.3" stroke="#262626" stroke-width="0.8" stroke-linecap="butt"/>
<text x="319" y="403.14" font-size="7.9" text-anchor="end" fill="#2a2a2a" stroke="#2a2a2a" stroke-width="0.18">500</text>
<line x1="322.3" y1="426.1" x2="325.3" y2="426.1" stroke="#262626" stroke-width="0.8" stroke-linecap="butt"/>
<text x="319" y="428.94" font-size="7.9" text-anchor="end" fill="#2a2a2a" stroke="#2a2a2a" stroke-width="0.18">LLOQ</text>
<line x1="467" y1="331.5" x2="467" y2="426.6" stroke="#262626" stroke-width="1.1" stroke-linecap="butt"/>
<line x1="467" y1="333" x2="470" y2="333" stroke="#262626" stroke-width="0.8" stroke-linecap="butt"/>
<text x="472.2" y="335.84" font-size="7.9" text-anchor="start" fill="#2a2a2a" stroke="#2a2a2a" stroke-width="0.18">2500</text>
<line x1="467" y1="351.7" x2="470" y2="351.7" stroke="#262626" stroke-width="0.8" stroke-linecap="butt"/>
<text x="472.2" y="354.54" font-size="7.9" text-anchor="start" fill="#2a2a2a" stroke="#2a2a2a" stroke-width="0.18">2000</text>
<line x1="467" y1="370.4" x2="470" y2="370.4" stroke="#262626" stroke-width="0.8" stroke-linecap="butt"/>
<text x="472.2" y="373.24" font-size="7.9" text-anchor="start" fill="#2a2a2a" stroke="#2a2a2a" stroke-width="0.18">1500</text>
<line x1="467" y1="389.2" x2="470" y2="389.2" stroke="#262626" stroke-width="0.8" stroke-linecap="butt"/>
<text x="472.2" y="392.04" font-size="7.9" text-anchor="start" fill="#2a2a2a" stroke="#2a2a2a" stroke-width="0.18">1000</text>
<line x1="467" y1="407.8" x2="470" y2="407.8" stroke="#262626" stroke-width="0.8" stroke-linecap="butt"/>
<text x="472.2" y="410.64" font-size="7.9" text-anchor="start" fill="#2a2a2a" stroke="#2a2a2a" stroke-width="0.18">500</text>
<line x1="467" y1="426.5" x2="470" y2="426.5" stroke="#262626" stroke-width="0.8" stroke-linecap="butt"/>
<text x="472.2" y="429.34" font-size="7.9" text-anchor="start" fill="#2a2a2a" stroke="#2a2a2a" stroke-width="0.18">0</text>
<line x1="324.8" y1="426.1" x2="467.5" y2="426.1" stroke="#262626" stroke-width="1.1" stroke-linecap="butt"/>
<line x1="327.4" y1="426.1" x2="327.4" y2="429.1" stroke="#262626" stroke-width="0.8" stroke-linecap="butt"/>
<text x="327.4" y="439.34" font-size="7.9" text-anchor="middle" fill="#2a2a2a" stroke="#2a2a2a" stroke-width="0.18">0</text>
<line x1="338.1" y1="426.1" x2="338.1" y2="429.1" stroke="#262626" stroke-width="0.8" stroke-linecap="butt"/>
<text x="338.1" y="439.34" font-size="7.9" text-anchor="middle" fill="#2a2a2a" stroke="#2a2a2a" stroke-width="0.18">2</text>
<line x1="348.8" y1="426.1" x2="348.8" y2="429.1" stroke="#262626" stroke-width="0.8" stroke-linecap="butt"/>
<text x="348.8" y="439.34" font-size="7.9" text-anchor="middle" fill="#2a2a2a" stroke="#2a2a2a" stroke-width="0.18">4</text>
<line x1="359.5" y1="426.1" x2="359.5" y2="429.1" stroke="#262626" stroke-width="0.8" stroke-linecap="butt"/>
<text x="359.5" y="439.34" font-size="7.9" text-anchor="middle" fill="#2a2a2a" stroke="#2a2a2a" stroke-width="0.18">6</text>
<line x1="370.2" y1="426.1" x2="370.2" y2="429.1" stroke="#262626" stroke-width="0.8" stroke-linecap="butt"/>
<text x="370.2" y="439.34" font-size="7.9" text-anchor="middle" fill="#2a2a2a" stroke="#2a2a2a" stroke-width="0.18">8</text>
<line x1="380.9" y1="426.1" x2="380.9" y2="429.1" stroke="#262626" stroke-width="0.8" stroke-linecap="butt"/>
<text x="380.9" y="439.34" font-size="7.9" text-anchor="middle" fill="#2a2a2a" stroke="#2a2a2a" stroke-width="0.18">10</text>
<line x1="391.6" y1="426.1" x2="391.6" y2="429.1" stroke="#262626" stroke-width="0.8" stroke-linecap="butt"/>
<text x="391.6" y="439.34" font-size="7.9" text-anchor="middle" fill="#2a2a2a" stroke="#2a2a2a" stroke-width="0.18">12</text>
<line x1="402.3" y1="426.1" x2="402.3" y2="429.1" stroke="#262626" stroke-width="0.8" stroke-linecap="butt"/>
<text x="402.3" y="439.34" font-size="7.9" text-anchor="middle" fill="#2a2a2a" stroke="#2a2a2a" stroke-width="0.18">14</text>
<line x1="413" y1="426.1" x2="413" y2="429.1" stroke="#262626" stroke-width="0.8" stroke-linecap="butt"/>
<text x="413" y="439.34" font-size="7.9" text-anchor="middle" fill="#2a2a2a" stroke="#2a2a2a" stroke-width="0.18">16</text>
<line x1="423.7" y1="426.1" x2="423.7" y2="429.1" stroke="#262626" stroke-width="0.8" stroke-linecap="butt"/>
<text x="423.7" y="439.34" font-size="7.9" text-anchor="middle" fill="#2a2a2a" stroke="#2a2a2a" stroke-width="0.18">18</text>
<line x1="434.4" y1="426.1" x2="434.4" y2="429.1" stroke="#262626" stroke-width="0.8" stroke-linecap="butt"/>
<text x="434.4" y="439.34" font-size="7.9" text-anchor="middle" fill="#2a2a2a" stroke="#2a2a2a" stroke-width="0.18">20</text>
<line x1="445.1" y1="426.1" x2="445.1" y2="429.1" stroke="#262626" stroke-width="0.8" stroke-linecap="butt"/>
<text x="445.1" y="439.34" font-size="7.9" text-anchor="middle" fill="#2a2a2a" stroke="#2a2a2a" stroke-width="0.18">22</text>
<line x1="455.8" y1="426.1" x2="455.8" y2="429.1" stroke="#262626" stroke-width="0.8" stroke-linecap="butt"/>
<text x="455.8" y="439.34" font-size="7.9" text-anchor="middle" fill="#2a2a2a" stroke="#2a2a2a" stroke-width="0.18">24</text>
<line x1="466.5" y1="426.1" x2="466.5" y2="429.1" stroke="#262626" stroke-width="0.8" stroke-linecap="butt"/>
<text x="466.5" y="439.34" font-size="7.9" text-anchor="middle" fill="#2a2a2a" stroke="#2a2a2a" stroke-width="0.18">26</text>
<text x="396.6" y="451.36" font-size="9.6" text-anchor="middle" fill="#2a2a2a" stroke="#2a2a2a" stroke-width="0.18" textLength="40.7" lengthAdjust="spacingAndGlyphs">Time (weeks)</text>
<text x="0" y="0" font-size="9.6" text-anchor="middle" fill="#2a2a2a" stroke="#2a2a2a" stroke-width="0.18" textLength="52.2" lengthAdjust="spacingAndGlyphs" transform="translate(291.2 379.1) rotate(-90) translate(0 3.36)">CMV DNA (IU/mL)</text>
<text x="0" y="0" font-size="9.6" text-anchor="middle" fill="#2a2a2a" stroke="#2a2a2a" stroke-width="0.18" textLength="55" lengthAdjust="spacingAndGlyphs" transform="translate(511.3 378.8) rotate(90) translate(0 3.36)">CMV IFN-γ ELISpot</text>
<text x="0" y="0" font-size="9.6" text-anchor="middle" fill="#2a2a2a" stroke="#2a2a2a" stroke-width="0.18" textLength="54" lengthAdjust="spacingAndGlyphs" transform="translate(499.1 377.9) rotate(90) translate(0 3.36)">(SFC/5×10<tspan font-size="4.5" dy="-2">5</tspan><tspan dy="2"> PBMC)</tspan></text>
<line x1="426.3" y1="338.8" x2="440.5" y2="338.8" stroke="#1f3e78" stroke-width="1.5" stroke-linecap="butt"/>
<circle cx="433.4" cy="338.8" r="1.8" fill="#2a4a80" stroke="#152b56" stroke-width="0.6"/>
<text x="443.3" y="341.3" font-size="7.2" text-anchor="start" fill="#2a2a2a" stroke="#2a2a2a" stroke-width="0.18" textLength="15.6" lengthAdjust="spacingAndGlyphs">CMV</text>
<rect x="431.5" y="345.6" width="3.6" height="3" fill="#3aa3da"/>
<text x="443.3" y="349.9" font-size="7.2" text-anchor="start" fill="#2a2a2a" stroke="#2a2a2a" stroke-width="0.18" textLength="19.4" lengthAdjust="spacingAndGlyphs">T cells</text>
<rect x="325.45" y="416" width="3.9" height="10.1" fill="#3aa3da"/>
<rect x="330.8" y="371" width="3.9" height="55.1" fill="#3aa3da"/>
<rect x="336.15" y="401" width="3.9" height="25.1" fill="#3aa3da"/>
<rect x="341.5" y="420" width="3.9" height="6.1" fill="#3aa3da"/>
<rect x="346.85" y="423" width="3.9" height="3.1" fill="#3aa3da"/>
<rect x="352.2" y="392" width="3.9" height="34.1" fill="#3aa3da"/>
<rect x="362.9" y="399" width="3.9" height="27.1" fill="#3aa3da"/>
<rect x="384.3" y="369.4" width="3.9" height="56.7" fill="#3aa3da"/>
<rect x="400.35" y="358" width="3.9" height="68.1" fill="#3aa3da"/>
<rect x="421.75" y="354.7" width="3.9" height="71.4" fill="#3aa3da"/>
<rect x="443.15" y="373.2" width="3.9" height="52.9" fill="#3aa3da"/>
<polyline points="327.4,426.1 332.75,401.4 338.1,381.7 343.45,369.9 348.8,416 354.15,423.5 359.5,400.9 364.85,424 370.2,426.1 380.9,426.1 386.25,426.1 391.6,426.1 396.95,426.1 402.3,426.1 423.7,426.1 445.1,426.1 466.5,426.1" fill="none" stroke="#1f3e78" stroke-width="1.2" stroke-linejoin="round"/>
<circle cx="327.4" cy="426.1" r="2" fill="#2a4a80" stroke="#152b56" stroke-width="0.6"/>
<circle cx="332.75" cy="401.4" r="2" fill="#2a4a80" stroke="#152b56" stroke-width="0.6"/>
<circle cx="338.1" cy="381.7" r="2" fill="#2a4a80" stroke="#152b56" stroke-width="0.6"/>
<circle cx="343.45" cy="369.9" r="2" fill="#2a4a80" stroke="#152b56" stroke-width="0.6"/>
<circle cx="348.8" cy="416" r="2" fill="#2a4a80" stroke="#152b56" stroke-width="0.6"/>
<circle cx="354.15" cy="423.5" r="2" fill="#2a4a80" stroke="#152b56" stroke-width="0.6"/>
<circle cx="359.5" cy="400.9" r="2" fill="#2a4a80" stroke="#152b56" stroke-width="0.6"/>
<circle cx="364.85" cy="424" r="2" fill="#2a4a80" stroke="#152b56" stroke-width="0.6"/>
<circle cx="370.2" cy="426.1" r="2" fill="#2a4a80" stroke="#152b56" stroke-width="0.6"/>
<circle cx="380.9" cy="426.1" r="2" fill="#2a4a80" stroke="#152b56" stroke-width="0.6"/>
<circle cx="386.25" cy="426.1" r="2" fill="#2a4a80" stroke="#152b56" stroke-width="0.6"/>
<circle cx="391.6" cy="426.1" r="2" fill="#2a4a80" stroke="#152b56" stroke-width="0.6"/>
<circle cx="396.95" cy="426.1" r="2" fill="#2a4a80" stroke="#152b56" stroke-width="0.6"/>
<circle cx="402.3" cy="426.1" r="2" fill="#2a4a80" stroke="#152b56" stroke-width="0.6"/>
<circle cx="423.7" cy="426.1" r="2" fill="#2a4a80" stroke="#152b56" stroke-width="0.6"/>
<circle cx="445.1" cy="426.1" r="2" fill="#2a4a80" stroke="#152b56" stroke-width="0.6"/>
<circle cx="466.5" cy="426.1" r="2" fill="#2a4a80" stroke="#152b56" stroke-width="0.6"/>
<rect x="0.55" y="0.55" width="518.9" height="458.9" fill="none" stroke="#4a4a4a" stroke-width="1.1"/>
</svg></body></html>
